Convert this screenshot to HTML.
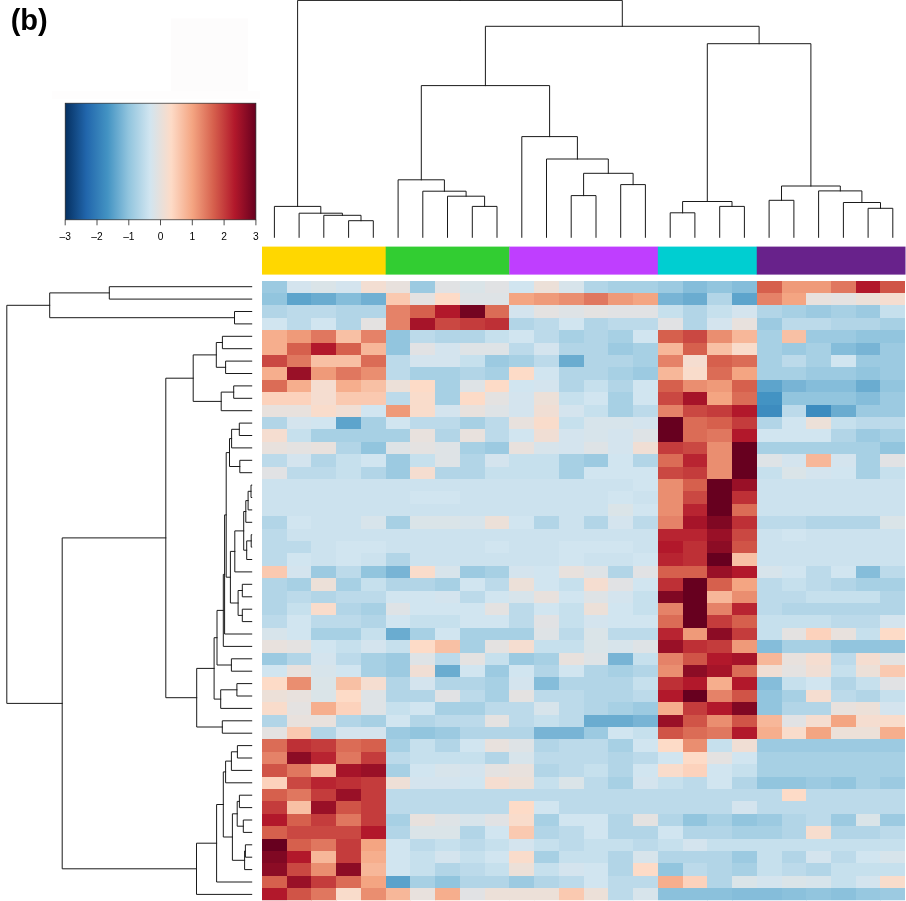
<!DOCTYPE html><html><head><meta charset="utf-8"><title>(b) heatmap</title>
<style>html,body{margin:0;padding:0;background:#fff}svg{display:block;will-change:transform}text{font-family:"Liberation Sans",Arial,sans-serif}</style></head><body>
<svg width="906" height="901" viewBox="0 0 906 901">
<rect width="906" height="901" fill="#fff"/>
<text x="10.7" y="29.6" font-size="29" font-weight="bold" fill="#000">(b)</text>
<rect x="171" y="18.5" width="77" height="80" fill="#fdfcfc"/>
<rect x="52" y="91" width="208" height="8" fill="#fefdfd"/>
<defs><linearGradient id="k" x1="0" x2="1" y1="0" y2="0">
<stop offset="0.0000" stop-color="#053061"/>
<stop offset="0.1111" stop-color="#2166AC"/>
<stop offset="0.2222" stop-color="#4393C3"/>
<stop offset="0.3333" stop-color="#92C5DE"/>
<stop offset="0.4444" stop-color="#D1E5F0"/>
<stop offset="0.5556" stop-color="#FDDBC7"/>
<stop offset="0.6667" stop-color="#F4A582"/>
<stop offset="0.7778" stop-color="#D6604D"/>
<stop offset="0.8889" stop-color="#B2182B"/>
<stop offset="1.0000" stop-color="#67001F"/>
</linearGradient></defs>
<rect x="65.2" y="103.2" width="190.7" height="116.6" fill="url(#k)" stroke="#222" stroke-width="0.7"/>
<line x1="65.2" y1="219.8" x2="65.2" y2="225.3" stroke="#222" stroke-width="0.8"/>
<text x="65.2" y="240" font-size="10.2" text-anchor="middle" fill="#000">–3</text>
<line x1="97.0" y1="219.8" x2="97.0" y2="225.3" stroke="#222" stroke-width="0.8"/>
<text x="97.0" y="240" font-size="10.2" text-anchor="middle" fill="#000">–2</text>
<line x1="128.8" y1="219.8" x2="128.8" y2="225.3" stroke="#222" stroke-width="0.8"/>
<text x="128.8" y="240" font-size="10.2" text-anchor="middle" fill="#000">–1</text>
<line x1="160.5" y1="219.8" x2="160.5" y2="225.3" stroke="#222" stroke-width="0.8"/>
<text x="160.5" y="240" font-size="10.2" text-anchor="middle" fill="#000">0</text>
<line x1="192.3" y1="219.8" x2="192.3" y2="225.3" stroke="#222" stroke-width="0.8"/>
<text x="192.3" y="240" font-size="10.2" text-anchor="middle" fill="#000">1</text>
<line x1="224.1" y1="219.8" x2="224.1" y2="225.3" stroke="#222" stroke-width="0.8"/>
<text x="224.1" y="240" font-size="10.2" text-anchor="middle" fill="#000">2</text>
<line x1="255.9" y1="219.8" x2="255.9" y2="225.3" stroke="#222" stroke-width="0.8"/>
<text x="255.9" y="240" font-size="10.2" text-anchor="middle" fill="#000">3</text>
<rect x="262.00" y="246.6" width="123.99" height="28" fill="#FFD700"/>
<rect x="385.69" y="246.6" width="123.99" height="28" fill="#32CD32"/>
<rect x="509.38" y="246.6" width="148.73" height="28" fill="#BF3EFF"/>
<rect x="657.82" y="246.6" width="99.25" height="28" fill="#00CED1"/>
<rect x="756.77" y="246.6" width="148.73" height="28" fill="#68228B"/>
<clipPath id="hc"><rect x="262" y="280.5" width="643" height="619.7"/></clipPath>
<g shape-rendering="crispEdges" clip-path="url(#hc)">
<rect x="262.00" y="280.50" width="25.24" height="12.90" fill="#9ccae1"/>
<rect x="286.74" y="280.50" width="25.24" height="12.90" fill="#d4e4ee"/>
<rect x="311.48" y="280.50" width="25.24" height="12.90" fill="#dae4e8"/>
<rect x="336.22" y="280.50" width="25.24" height="12.90" fill="#d4e4ee"/>
<rect x="360.95" y="280.50" width="25.24" height="12.90" fill="#f3ded2"/>
<rect x="385.69" y="280.50" width="25.24" height="12.90" fill="#e8e1dd"/>
<rect x="410.43" y="280.50" width="25.24" height="12.90" fill="#9ccae1"/>
<rect x="435.17" y="280.50" width="25.24" height="12.90" fill="#e1e2e4"/>
<rect x="459.91" y="280.50" width="25.24" height="12.90" fill="#dae4e8"/>
<rect x="484.65" y="280.50" width="25.24" height="12.90" fill="#e1e2e4"/>
<rect x="509.38" y="280.50" width="25.24" height="12.90" fill="#d1e5f0"/>
<rect x="534.12" y="280.50" width="25.24" height="12.90" fill="#ece0d8"/>
<rect x="558.86" y="280.50" width="25.24" height="12.90" fill="#d7e4eb"/>
<rect x="583.60" y="280.50" width="25.24" height="12.90" fill="#b2d5e7"/>
<rect x="608.34" y="280.50" width="25.24" height="12.90" fill="#a7d0e4"/>
<rect x="633.08" y="280.50" width="25.24" height="12.90" fill="#a7d0e4"/>
<rect x="657.82" y="280.50" width="25.24" height="12.90" fill="#9ccae1"/>
<rect x="682.55" y="280.50" width="25.24" height="12.90" fill="#85bdda"/>
<rect x="707.29" y="280.50" width="25.24" height="12.90" fill="#92c5de"/>
<rect x="732.03" y="280.50" width="25.24" height="12.90" fill="#85bdda"/>
<rect x="756.77" y="280.50" width="25.24" height="12.90" fill="#d6604d"/>
<rect x="781.51" y="280.50" width="25.24" height="12.90" fill="#ef9a79"/>
<rect x="806.25" y="280.50" width="25.24" height="12.90" fill="#ef9a79"/>
<rect x="830.98" y="280.50" width="25.24" height="12.90" fill="#e0775f"/>
<rect x="855.72" y="280.50" width="25.24" height="12.90" fill="#b2182b"/>
<rect x="880.46" y="280.50" width="25.24" height="12.90" fill="#d05447"/>
<rect x="262.00" y="292.90" width="25.24" height="12.90" fill="#92c5de"/>
<rect x="286.74" y="292.90" width="25.24" height="12.90" fill="#5da4cc"/>
<rect x="311.48" y="292.90" width="25.24" height="12.90" fill="#6aacd0"/>
<rect x="336.22" y="292.90" width="25.24" height="12.90" fill="#85bdda"/>
<rect x="360.95" y="292.90" width="25.24" height="12.90" fill="#71b0d3"/>
<rect x="385.69" y="292.90" width="25.24" height="12.90" fill="#fac9b0"/>
<rect x="410.43" y="292.90" width="25.24" height="12.90" fill="#e4e2e1"/>
<rect x="435.17" y="292.90" width="25.24" height="12.90" fill="#fddbc7"/>
<rect x="459.91" y="292.90" width="25.24" height="12.90" fill="#dee3e6"/>
<rect x="484.65" y="292.90" width="25.24" height="12.90" fill="#dee3e6"/>
<rect x="509.38" y="292.90" width="25.24" height="12.90" fill="#f4a582"/>
<rect x="534.12" y="292.90" width="25.24" height="12.90" fill="#ef9a79"/>
<rect x="558.86" y="292.90" width="25.24" height="12.90" fill="#ea8e70"/>
<rect x="583.60" y="292.90" width="25.24" height="12.90" fill="#e0775f"/>
<rect x="608.34" y="292.90" width="25.24" height="12.90" fill="#ef9a79"/>
<rect x="633.08" y="292.90" width="25.24" height="12.90" fill="#f4a582"/>
<rect x="657.82" y="292.90" width="25.24" height="12.90" fill="#78b4d5"/>
<rect x="682.55" y="292.90" width="25.24" height="12.90" fill="#6aacd0"/>
<rect x="707.29" y="292.90" width="25.24" height="12.90" fill="#b2d5e7"/>
<rect x="732.03" y="292.90" width="25.24" height="12.90" fill="#5da4cc"/>
<rect x="756.77" y="292.90" width="25.24" height="12.90" fill="#e58268"/>
<rect x="781.51" y="292.90" width="25.24" height="12.90" fill="#f4a582"/>
<rect x="806.25" y="292.90" width="25.24" height="12.90" fill="#e8e1dd"/>
<rect x="830.98" y="292.90" width="25.24" height="12.90" fill="#e4e2e1"/>
<rect x="855.72" y="292.90" width="25.24" height="12.90" fill="#ece0d8"/>
<rect x="880.46" y="292.90" width="25.24" height="12.90" fill="#f5ddd0"/>
<rect x="262.00" y="305.30" width="25.24" height="12.90" fill="#b2d5e7"/>
<rect x="286.74" y="305.30" width="25.24" height="12.90" fill="#bcdaea"/>
<rect x="311.48" y="305.30" width="25.24" height="12.90" fill="#bcdaea"/>
<rect x="336.22" y="305.30" width="25.24" height="12.90" fill="#b2d5e7"/>
<rect x="360.95" y="305.30" width="25.24" height="12.90" fill="#b2d5e7"/>
<rect x="385.69" y="305.30" width="25.24" height="12.90" fill="#e58268"/>
<rect x="410.43" y="305.30" width="25.24" height="12.90" fill="#d6604d"/>
<rect x="435.17" y="305.30" width="25.24" height="12.90" fill="#b2182b"/>
<rect x="459.91" y="305.30" width="25.24" height="12.90" fill="#740421"/>
<rect x="484.65" y="305.30" width="25.24" height="12.90" fill="#db6c56"/>
<rect x="509.38" y="305.30" width="25.24" height="12.90" fill="#d4e4ee"/>
<rect x="534.12" y="305.30" width="25.24" height="12.90" fill="#e4e2e1"/>
<rect x="558.86" y="305.30" width="25.24" height="12.90" fill="#dee3e6"/>
<rect x="583.60" y="305.30" width="25.24" height="12.90" fill="#e4e2e1"/>
<rect x="608.34" y="305.30" width="25.24" height="12.90" fill="#e1e2e4"/>
<rect x="633.08" y="305.30" width="25.24" height="12.90" fill="#e1e2e4"/>
<rect x="657.82" y="305.30" width="25.24" height="12.90" fill="#c6e0ed"/>
<rect x="682.55" y="305.30" width="25.24" height="12.90" fill="#b2d5e7"/>
<rect x="707.29" y="305.30" width="25.24" height="12.90" fill="#c6e0ed"/>
<rect x="732.03" y="305.30" width="25.24" height="12.90" fill="#d4e4ee"/>
<rect x="756.77" y="305.30" width="25.24" height="12.90" fill="#b2d5e7"/>
<rect x="781.51" y="305.30" width="25.24" height="12.90" fill="#a7d0e4"/>
<rect x="806.25" y="305.30" width="25.24" height="12.90" fill="#9ccae1"/>
<rect x="830.98" y="305.30" width="25.24" height="12.90" fill="#a7d0e4"/>
<rect x="855.72" y="305.30" width="25.24" height="12.90" fill="#9ccae1"/>
<rect x="880.46" y="305.30" width="25.24" height="12.90" fill="#c6e0ed"/>
<rect x="262.00" y="317.71" width="25.24" height="12.90" fill="#d1e5f0"/>
<rect x="286.74" y="317.71" width="25.24" height="12.90" fill="#bcdaea"/>
<rect x="311.48" y="317.71" width="25.24" height="12.90" fill="#d1e5f0"/>
<rect x="336.22" y="317.71" width="25.24" height="12.90" fill="#b2d5e7"/>
<rect x="360.95" y="317.71" width="25.24" height="12.90" fill="#e4e2e1"/>
<rect x="385.69" y="317.71" width="25.24" height="12.90" fill="#e58268"/>
<rect x="410.43" y="317.71" width="25.24" height="12.90" fill="#a61429"/>
<rect x="435.17" y="317.71" width="25.24" height="12.90" fill="#ca4842"/>
<rect x="459.91" y="317.71" width="25.24" height="12.90" fill="#c43c3c"/>
<rect x="484.65" y="317.71" width="25.24" height="12.90" fill="#be3036"/>
<rect x="509.38" y="317.71" width="25.24" height="12.90" fill="#b2d5e7"/>
<rect x="534.12" y="317.71" width="25.24" height="12.90" fill="#bcdaea"/>
<rect x="558.86" y="317.71" width="25.24" height="12.90" fill="#d1e5f0"/>
<rect x="583.60" y="317.71" width="25.24" height="12.90" fill="#b2d5e7"/>
<rect x="608.34" y="317.71" width="25.24" height="12.90" fill="#bcdaea"/>
<rect x="633.08" y="317.71" width="25.24" height="12.90" fill="#bcdaea"/>
<rect x="657.82" y="317.71" width="25.24" height="12.90" fill="#e1e2e4"/>
<rect x="682.55" y="317.71" width="25.24" height="12.90" fill="#b2d5e7"/>
<rect x="707.29" y="317.71" width="25.24" height="12.90" fill="#d4e4ee"/>
<rect x="732.03" y="317.71" width="25.24" height="12.90" fill="#e8e1dd"/>
<rect x="756.77" y="317.71" width="25.24" height="12.90" fill="#9ccae1"/>
<rect x="781.51" y="317.71" width="25.24" height="12.90" fill="#bcdaea"/>
<rect x="806.25" y="317.71" width="25.24" height="12.90" fill="#bcdaea"/>
<rect x="830.98" y="317.71" width="25.24" height="12.90" fill="#b2d5e7"/>
<rect x="855.72" y="317.71" width="25.24" height="12.90" fill="#b2d5e7"/>
<rect x="880.46" y="317.71" width="25.24" height="12.90" fill="#a7d0e4"/>
<rect x="262.00" y="330.11" width="25.24" height="12.90" fill="#f6ae8d"/>
<rect x="286.74" y="330.11" width="25.24" height="12.90" fill="#ef9a79"/>
<rect x="311.48" y="330.11" width="25.24" height="12.90" fill="#e0775f"/>
<rect x="336.22" y="330.11" width="25.24" height="12.90" fill="#f8c0a4"/>
<rect x="360.95" y="330.11" width="25.24" height="12.90" fill="#e58268"/>
<rect x="385.69" y="330.11" width="25.24" height="12.90" fill="#92c5de"/>
<rect x="410.43" y="330.11" width="25.24" height="12.90" fill="#bcdaea"/>
<rect x="435.17" y="330.11" width="25.24" height="12.90" fill="#b2d5e7"/>
<rect x="459.91" y="330.11" width="25.24" height="12.90" fill="#b2d5e7"/>
<rect x="484.65" y="330.11" width="25.24" height="12.90" fill="#c6e0ed"/>
<rect x="509.38" y="330.11" width="25.24" height="12.90" fill="#d1e5f0"/>
<rect x="534.12" y="330.11" width="25.24" height="12.90" fill="#bcdaea"/>
<rect x="558.86" y="330.11" width="25.24" height="12.90" fill="#a7d0e4"/>
<rect x="583.60" y="330.11" width="25.24" height="12.90" fill="#b2d5e7"/>
<rect x="608.34" y="330.11" width="25.24" height="12.90" fill="#a7d0e4"/>
<rect x="633.08" y="330.11" width="25.24" height="12.90" fill="#d1e5f0"/>
<rect x="657.82" y="330.11" width="25.24" height="12.90" fill="#d6604d"/>
<rect x="682.55" y="330.11" width="25.24" height="12.90" fill="#ca4842"/>
<rect x="707.29" y="330.11" width="25.24" height="12.90" fill="#ea8e70"/>
<rect x="732.03" y="330.11" width="25.24" height="12.90" fill="#f7b799"/>
<rect x="756.77" y="330.11" width="25.24" height="12.90" fill="#a7d0e4"/>
<rect x="781.51" y="330.11" width="25.24" height="12.90" fill="#f8c0a4"/>
<rect x="806.25" y="330.11" width="25.24" height="12.90" fill="#9ccae1"/>
<rect x="830.98" y="330.11" width="25.24" height="12.90" fill="#9ccae1"/>
<rect x="855.72" y="330.11" width="25.24" height="12.90" fill="#92c5de"/>
<rect x="880.46" y="330.11" width="25.24" height="12.90" fill="#92c5de"/>
<rect x="262.00" y="342.51" width="25.24" height="12.90" fill="#f6ae8d"/>
<rect x="286.74" y="342.51" width="25.24" height="12.90" fill="#d6604d"/>
<rect x="311.48" y="342.51" width="25.24" height="12.90" fill="#b2182b"/>
<rect x="336.22" y="342.51" width="25.24" height="12.90" fill="#d6604d"/>
<rect x="360.95" y="342.51" width="25.24" height="12.90" fill="#f7b799"/>
<rect x="385.69" y="342.51" width="25.24" height="12.90" fill="#92c5de"/>
<rect x="410.43" y="342.51" width="25.24" height="12.90" fill="#e1e2e4"/>
<rect x="435.17" y="342.51" width="25.24" height="12.90" fill="#d4e4ee"/>
<rect x="459.91" y="342.51" width="25.24" height="12.90" fill="#dee3e6"/>
<rect x="484.65" y="342.51" width="25.24" height="12.90" fill="#dee3e6"/>
<rect x="509.38" y="342.51" width="25.24" height="12.90" fill="#bcdaea"/>
<rect x="534.12" y="342.51" width="25.24" height="12.90" fill="#d4e4ee"/>
<rect x="558.86" y="342.51" width="25.24" height="12.90" fill="#b2d5e7"/>
<rect x="583.60" y="342.51" width="25.24" height="12.90" fill="#b2d5e7"/>
<rect x="608.34" y="342.51" width="25.24" height="12.90" fill="#9ccae1"/>
<rect x="633.08" y="342.51" width="25.24" height="12.90" fill="#a7d0e4"/>
<rect x="657.82" y="342.51" width="25.24" height="12.90" fill="#f7b799"/>
<rect x="682.55" y="342.51" width="25.24" height="12.90" fill="#d6604d"/>
<rect x="707.29" y="342.51" width="25.24" height="12.90" fill="#f8c0a4"/>
<rect x="732.03" y="342.51" width="25.24" height="12.90" fill="#f9dccb"/>
<rect x="756.77" y="342.51" width="25.24" height="12.90" fill="#a7d0e4"/>
<rect x="781.51" y="342.51" width="25.24" height="12.90" fill="#9ccae1"/>
<rect x="806.25" y="342.51" width="25.24" height="12.90" fill="#a7d0e4"/>
<rect x="830.98" y="342.51" width="25.24" height="12.90" fill="#85bdda"/>
<rect x="855.72" y="342.51" width="25.24" height="12.90" fill="#78b4d5"/>
<rect x="880.46" y="342.51" width="25.24" height="12.90" fill="#9ccae1"/>
<rect x="262.00" y="354.91" width="25.24" height="12.90" fill="#ca4842"/>
<rect x="286.74" y="354.91" width="25.24" height="12.90" fill="#e0775f"/>
<rect x="311.48" y="354.91" width="25.24" height="12.90" fill="#f8c0a4"/>
<rect x="336.22" y="354.91" width="25.24" height="12.90" fill="#f8c0a4"/>
<rect x="360.95" y="354.91" width="25.24" height="12.90" fill="#db6c56"/>
<rect x="385.69" y="354.91" width="25.24" height="12.90" fill="#bcdaea"/>
<rect x="410.43" y="354.91" width="25.24" height="12.90" fill="#d4e4ee"/>
<rect x="435.17" y="354.91" width="25.24" height="12.90" fill="#d4e4ee"/>
<rect x="459.91" y="354.91" width="25.24" height="12.90" fill="#c6e0ed"/>
<rect x="484.65" y="354.91" width="25.24" height="12.90" fill="#9ccae1"/>
<rect x="509.38" y="354.91" width="25.24" height="12.90" fill="#a7d0e4"/>
<rect x="534.12" y="354.91" width="25.24" height="12.90" fill="#bcdaea"/>
<rect x="558.86" y="354.91" width="25.24" height="12.90" fill="#6aacd0"/>
<rect x="583.60" y="354.91" width="25.24" height="12.90" fill="#b2d5e7"/>
<rect x="608.34" y="354.91" width="25.24" height="12.90" fill="#b2d5e7"/>
<rect x="633.08" y="354.91" width="25.24" height="12.90" fill="#a7d0e4"/>
<rect x="657.82" y="354.91" width="25.24" height="12.90" fill="#e58268"/>
<rect x="682.55" y="354.91" width="25.24" height="12.90" fill="#f5ddd0"/>
<rect x="707.29" y="354.91" width="25.24" height="12.90" fill="#d6604d"/>
<rect x="732.03" y="354.91" width="25.24" height="12.90" fill="#db6c56"/>
<rect x="756.77" y="354.91" width="25.24" height="12.90" fill="#a7d0e4"/>
<rect x="781.51" y="354.91" width="25.24" height="12.90" fill="#bcdaea"/>
<rect x="806.25" y="354.91" width="25.24" height="12.90" fill="#a7d0e4"/>
<rect x="830.98" y="354.91" width="25.24" height="12.90" fill="#d1e5f0"/>
<rect x="855.72" y="354.91" width="25.24" height="12.90" fill="#9ccae1"/>
<rect x="880.46" y="354.91" width="25.24" height="12.90" fill="#9ccae1"/>
<rect x="262.00" y="367.31" width="25.24" height="12.90" fill="#f6ae8d"/>
<rect x="286.74" y="367.31" width="25.24" height="12.90" fill="#991027"/>
<rect x="311.48" y="367.31" width="25.24" height="12.90" fill="#ef9a79"/>
<rect x="336.22" y="367.31" width="25.24" height="12.90" fill="#e0775f"/>
<rect x="360.95" y="367.31" width="25.24" height="12.90" fill="#ea8e70"/>
<rect x="385.69" y="367.31" width="25.24" height="12.90" fill="#bcdaea"/>
<rect x="410.43" y="367.31" width="25.24" height="12.90" fill="#a7d0e4"/>
<rect x="435.17" y="367.31" width="25.24" height="12.90" fill="#a7d0e4"/>
<rect x="459.91" y="367.31" width="25.24" height="12.90" fill="#b2d5e7"/>
<rect x="484.65" y="367.31" width="25.24" height="12.90" fill="#a7d0e4"/>
<rect x="509.38" y="367.31" width="25.24" height="12.90" fill="#fddbc7"/>
<rect x="534.12" y="367.31" width="25.24" height="12.90" fill="#d1e5f0"/>
<rect x="558.86" y="367.31" width="25.24" height="12.90" fill="#b2d5e7"/>
<rect x="583.60" y="367.31" width="25.24" height="12.90" fill="#b2d5e7"/>
<rect x="608.34" y="367.31" width="25.24" height="12.90" fill="#a7d0e4"/>
<rect x="633.08" y="367.31" width="25.24" height="12.90" fill="#9ccae1"/>
<rect x="657.82" y="367.31" width="25.24" height="12.90" fill="#f7b799"/>
<rect x="682.55" y="367.31" width="25.24" height="12.90" fill="#f9dccb"/>
<rect x="707.29" y="367.31" width="25.24" height="12.90" fill="#db6c56"/>
<rect x="732.03" y="367.31" width="25.24" height="12.90" fill="#f4a582"/>
<rect x="756.77" y="367.31" width="25.24" height="12.90" fill="#a7d0e4"/>
<rect x="781.51" y="367.31" width="25.24" height="12.90" fill="#a7d0e4"/>
<rect x="806.25" y="367.31" width="25.24" height="12.90" fill="#9ccae1"/>
<rect x="830.98" y="367.31" width="25.24" height="12.90" fill="#9ccae1"/>
<rect x="855.72" y="367.31" width="25.24" height="12.90" fill="#92c5de"/>
<rect x="880.46" y="367.31" width="25.24" height="12.90" fill="#9ccae1"/>
<rect x="262.00" y="379.72" width="25.24" height="12.90" fill="#db6c56"/>
<rect x="286.74" y="379.72" width="25.24" height="12.90" fill="#f6ae8d"/>
<rect x="311.48" y="379.72" width="25.24" height="12.90" fill="#f5ddd0"/>
<rect x="336.22" y="379.72" width="25.24" height="12.90" fill="#f6ae8d"/>
<rect x="360.95" y="379.72" width="25.24" height="12.90" fill="#f8c0a4"/>
<rect x="385.69" y="379.72" width="25.24" height="12.90" fill="#ece0d8"/>
<rect x="410.43" y="379.72" width="25.24" height="12.90" fill="#fddbc7"/>
<rect x="435.17" y="379.72" width="25.24" height="12.90" fill="#a7d0e4"/>
<rect x="459.91" y="379.72" width="25.24" height="12.90" fill="#dee3e6"/>
<rect x="484.65" y="379.72" width="25.24" height="12.90" fill="#fddbc7"/>
<rect x="509.38" y="379.72" width="25.24" height="12.90" fill="#d1e5f0"/>
<rect x="534.12" y="379.72" width="25.24" height="12.90" fill="#d4e4ee"/>
<rect x="558.86" y="379.72" width="25.24" height="12.90" fill="#b2d5e7"/>
<rect x="583.60" y="379.72" width="25.24" height="12.90" fill="#c6e0ed"/>
<rect x="608.34" y="379.72" width="25.24" height="12.90" fill="#b2d5e7"/>
<rect x="633.08" y="379.72" width="25.24" height="12.90" fill="#d1e5f0"/>
<rect x="657.82" y="379.72" width="25.24" height="12.90" fill="#d6604d"/>
<rect x="682.55" y="379.72" width="25.24" height="12.90" fill="#ea8e70"/>
<rect x="707.29" y="379.72" width="25.24" height="12.90" fill="#ef9a79"/>
<rect x="732.03" y="379.72" width="25.24" height="12.90" fill="#d6604d"/>
<rect x="756.77" y="379.72" width="25.24" height="12.90" fill="#5da4cc"/>
<rect x="781.51" y="379.72" width="25.24" height="12.90" fill="#78b4d5"/>
<rect x="806.25" y="379.72" width="25.24" height="12.90" fill="#85bdda"/>
<rect x="830.98" y="379.72" width="25.24" height="12.90" fill="#85bdda"/>
<rect x="855.72" y="379.72" width="25.24" height="12.90" fill="#6aacd0"/>
<rect x="880.46" y="379.72" width="25.24" height="12.90" fill="#92c5de"/>
<rect x="262.00" y="392.12" width="25.24" height="12.90" fill="#fcd2bc"/>
<rect x="286.74" y="392.12" width="25.24" height="12.90" fill="#fcd2bc"/>
<rect x="311.48" y="392.12" width="25.24" height="12.90" fill="#f5ddd0"/>
<rect x="336.22" y="392.12" width="25.24" height="12.90" fill="#fac9b0"/>
<rect x="360.95" y="392.12" width="25.24" height="12.90" fill="#fac9b0"/>
<rect x="385.69" y="392.12" width="25.24" height="12.90" fill="#bcdaea"/>
<rect x="410.43" y="392.12" width="25.24" height="12.90" fill="#f9dccb"/>
<rect x="435.17" y="392.12" width="25.24" height="12.90" fill="#a7d0e4"/>
<rect x="459.91" y="392.12" width="25.24" height="12.90" fill="#fddbc7"/>
<rect x="484.65" y="392.12" width="25.24" height="12.90" fill="#e4e2e1"/>
<rect x="509.38" y="392.12" width="25.24" height="12.90" fill="#d4e4ee"/>
<rect x="534.12" y="392.12" width="25.24" height="12.90" fill="#ece0d8"/>
<rect x="558.86" y="392.12" width="25.24" height="12.90" fill="#c6e0ed"/>
<rect x="583.60" y="392.12" width="25.24" height="12.90" fill="#d1e5f0"/>
<rect x="608.34" y="392.12" width="25.24" height="12.90" fill="#a7d0e4"/>
<rect x="633.08" y="392.12" width="25.24" height="12.90" fill="#d1e5f0"/>
<rect x="657.82" y="392.12" width="25.24" height="12.90" fill="#ca4842"/>
<rect x="682.55" y="392.12" width="25.24" height="12.90" fill="#a61429"/>
<rect x="707.29" y="392.12" width="25.24" height="12.90" fill="#f4a582"/>
<rect x="732.03" y="392.12" width="25.24" height="12.90" fill="#db6c56"/>
<rect x="756.77" y="392.12" width="25.24" height="12.90" fill="#4393c3"/>
<rect x="781.51" y="392.12" width="25.24" height="12.90" fill="#92c5de"/>
<rect x="806.25" y="392.12" width="25.24" height="12.90" fill="#92c5de"/>
<rect x="830.98" y="392.12" width="25.24" height="12.90" fill="#92c5de"/>
<rect x="855.72" y="392.12" width="25.24" height="12.90" fill="#85bdda"/>
<rect x="880.46" y="392.12" width="25.24" height="12.90" fill="#9ccae1"/>
<rect x="262.00" y="404.52" width="25.24" height="12.90" fill="#e8e1dd"/>
<rect x="286.74" y="404.52" width="25.24" height="12.90" fill="#e8e1dd"/>
<rect x="311.48" y="404.52" width="25.24" height="12.90" fill="#f9dccb"/>
<rect x="336.22" y="404.52" width="25.24" height="12.90" fill="#f0ded4"/>
<rect x="360.95" y="404.52" width="25.24" height="12.90" fill="#d1e5f0"/>
<rect x="385.69" y="404.52" width="25.24" height="12.90" fill="#ef9a79"/>
<rect x="410.43" y="404.52" width="25.24" height="12.90" fill="#f9dccb"/>
<rect x="435.17" y="404.52" width="25.24" height="12.90" fill="#d4e4ee"/>
<rect x="459.91" y="404.52" width="25.24" height="12.90" fill="#e8e1dd"/>
<rect x="484.65" y="404.52" width="25.24" height="12.90" fill="#dee3e6"/>
<rect x="509.38" y="404.52" width="25.24" height="12.90" fill="#d4e4ee"/>
<rect x="534.12" y="404.52" width="25.24" height="12.90" fill="#f0ded4"/>
<rect x="558.86" y="404.52" width="25.24" height="12.90" fill="#d4e4ee"/>
<rect x="583.60" y="404.52" width="25.24" height="12.90" fill="#c6e0ed"/>
<rect x="608.34" y="404.52" width="25.24" height="12.90" fill="#a7d0e4"/>
<rect x="633.08" y="404.52" width="25.24" height="12.90" fill="#bcdaea"/>
<rect x="657.82" y="404.52" width="25.24" height="12.90" fill="#e58268"/>
<rect x="682.55" y="404.52" width="25.24" height="12.90" fill="#ca4842"/>
<rect x="707.29" y="404.52" width="25.24" height="12.90" fill="#c43c3c"/>
<rect x="732.03" y="404.52" width="25.24" height="12.90" fill="#b2182b"/>
<rect x="756.77" y="404.52" width="25.24" height="12.90" fill="#3d8cbf"/>
<rect x="781.51" y="404.52" width="25.24" height="12.90" fill="#bcdaea"/>
<rect x="806.25" y="404.52" width="25.24" height="12.90" fill="#3d8cbf"/>
<rect x="830.98" y="404.52" width="25.24" height="12.90" fill="#6aacd0"/>
<rect x="855.72" y="404.52" width="25.24" height="12.90" fill="#9ccae1"/>
<rect x="880.46" y="404.52" width="25.24" height="12.90" fill="#9ccae1"/>
<rect x="262.00" y="416.92" width="25.24" height="12.90" fill="#b2d5e7"/>
<rect x="286.74" y="416.92" width="25.24" height="12.90" fill="#d4e4ee"/>
<rect x="311.48" y="416.92" width="25.24" height="12.90" fill="#d1e5f0"/>
<rect x="336.22" y="416.92" width="25.24" height="12.90" fill="#5da4cc"/>
<rect x="360.95" y="416.92" width="25.24" height="12.90" fill="#a7d0e4"/>
<rect x="385.69" y="416.92" width="25.24" height="12.90" fill="#d1e5f0"/>
<rect x="410.43" y="416.92" width="25.24" height="12.90" fill="#bcdaea"/>
<rect x="435.17" y="416.92" width="25.24" height="12.90" fill="#bcdaea"/>
<rect x="459.91" y="416.92" width="25.24" height="12.90" fill="#a7d0e4"/>
<rect x="484.65" y="416.92" width="25.24" height="12.90" fill="#bcdaea"/>
<rect x="509.38" y="416.92" width="25.24" height="12.90" fill="#e8e1dd"/>
<rect x="534.12" y="416.92" width="25.24" height="12.90" fill="#f9dccb"/>
<rect x="558.86" y="416.92" width="25.24" height="12.90" fill="#c6e0ed"/>
<rect x="583.60" y="416.92" width="25.24" height="12.90" fill="#d7e4eb"/>
<rect x="608.34" y="416.92" width="25.24" height="12.90" fill="#d7e4eb"/>
<rect x="633.08" y="416.92" width="25.24" height="12.90" fill="#d4e4ee"/>
<rect x="657.82" y="416.92" width="25.24" height="12.90" fill="#67001f"/>
<rect x="682.55" y="416.92" width="25.24" height="12.90" fill="#db6c56"/>
<rect x="707.29" y="416.92" width="25.24" height="12.90" fill="#d6604d"/>
<rect x="732.03" y="416.92" width="25.24" height="12.90" fill="#c43c3c"/>
<rect x="756.77" y="416.92" width="25.24" height="12.90" fill="#b2d5e7"/>
<rect x="781.51" y="416.92" width="25.24" height="12.90" fill="#d1e5f0"/>
<rect x="806.25" y="416.92" width="25.24" height="12.90" fill="#ece0d8"/>
<rect x="830.98" y="416.92" width="25.24" height="12.90" fill="#c6e0ed"/>
<rect x="855.72" y="416.92" width="25.24" height="12.90" fill="#bcdaea"/>
<rect x="880.46" y="416.92" width="25.24" height="12.90" fill="#bcdaea"/>
<rect x="262.00" y="429.32" width="25.24" height="12.90" fill="#f5ddd0"/>
<rect x="286.74" y="429.32" width="25.24" height="12.90" fill="#c6e0ed"/>
<rect x="311.48" y="429.32" width="25.24" height="12.90" fill="#a7d0e4"/>
<rect x="336.22" y="429.32" width="25.24" height="12.90" fill="#a7d0e4"/>
<rect x="360.95" y="429.32" width="25.24" height="12.90" fill="#a7d0e4"/>
<rect x="385.69" y="429.32" width="25.24" height="12.90" fill="#a7d0e4"/>
<rect x="410.43" y="429.32" width="25.24" height="12.90" fill="#e8e1dd"/>
<rect x="435.17" y="429.32" width="25.24" height="12.90" fill="#b2d5e7"/>
<rect x="459.91" y="429.32" width="25.24" height="12.90" fill="#e8e1dd"/>
<rect x="484.65" y="429.32" width="25.24" height="12.90" fill="#bcdaea"/>
<rect x="509.38" y="429.32" width="25.24" height="12.90" fill="#d1e5f0"/>
<rect x="534.12" y="429.32" width="25.24" height="12.90" fill="#f0ded4"/>
<rect x="558.86" y="429.32" width="25.24" height="12.90" fill="#d4e4ee"/>
<rect x="583.60" y="429.32" width="25.24" height="12.90" fill="#d7e4eb"/>
<rect x="608.34" y="429.32" width="25.24" height="12.90" fill="#d4e4ee"/>
<rect x="633.08" y="429.32" width="25.24" height="12.90" fill="#dee3e6"/>
<rect x="657.82" y="429.32" width="25.24" height="12.90" fill="#67001f"/>
<rect x="682.55" y="429.32" width="25.24" height="12.90" fill="#db6c56"/>
<rect x="707.29" y="429.32" width="25.24" height="12.90" fill="#e0775f"/>
<rect x="732.03" y="429.32" width="25.24" height="12.90" fill="#b2182b"/>
<rect x="756.77" y="429.32" width="25.24" height="12.90" fill="#d1e5f0"/>
<rect x="781.51" y="429.32" width="25.24" height="12.90" fill="#d1e5f0"/>
<rect x="806.25" y="429.32" width="25.24" height="12.90" fill="#d1e5f0"/>
<rect x="830.98" y="429.32" width="25.24" height="12.90" fill="#b2d5e7"/>
<rect x="855.72" y="429.32" width="25.24" height="12.90" fill="#9ccae1"/>
<rect x="880.46" y="429.32" width="25.24" height="12.90" fill="#a7d0e4"/>
<rect x="262.00" y="441.73" width="25.24" height="12.90" fill="#e8e1dd"/>
<rect x="286.74" y="441.73" width="25.24" height="12.90" fill="#e4e2e1"/>
<rect x="311.48" y="441.73" width="25.24" height="12.90" fill="#e8e1dd"/>
<rect x="336.22" y="441.73" width="25.24" height="12.90" fill="#b2d5e7"/>
<rect x="360.95" y="441.73" width="25.24" height="12.90" fill="#92c5de"/>
<rect x="385.69" y="441.73" width="25.24" height="12.90" fill="#dee3e6"/>
<rect x="410.43" y="441.73" width="25.24" height="12.90" fill="#e4e2e1"/>
<rect x="435.17" y="441.73" width="25.24" height="12.90" fill="#dee3e6"/>
<rect x="459.91" y="441.73" width="25.24" height="12.90" fill="#a7d0e4"/>
<rect x="484.65" y="441.73" width="25.24" height="12.90" fill="#9ccae1"/>
<rect x="509.38" y="441.73" width="25.24" height="12.90" fill="#e8e1dd"/>
<rect x="534.12" y="441.73" width="25.24" height="12.90" fill="#d7e4eb"/>
<rect x="558.86" y="441.73" width="25.24" height="12.90" fill="#d4e4ee"/>
<rect x="583.60" y="441.73" width="25.24" height="12.90" fill="#dee3e6"/>
<rect x="608.34" y="441.73" width="25.24" height="12.90" fill="#d4e4ee"/>
<rect x="633.08" y="441.73" width="25.24" height="12.90" fill="#f0ded4"/>
<rect x="657.82" y="441.73" width="25.24" height="12.90" fill="#c43c3c"/>
<rect x="682.55" y="441.73" width="25.24" height="12.90" fill="#ca4842"/>
<rect x="707.29" y="441.73" width="25.24" height="12.90" fill="#ea8e70"/>
<rect x="732.03" y="441.73" width="25.24" height="12.90" fill="#67001f"/>
<rect x="756.77" y="441.73" width="25.24" height="12.90" fill="#a7d0e4"/>
<rect x="781.51" y="441.73" width="25.24" height="12.90" fill="#a7d0e4"/>
<rect x="806.25" y="441.73" width="25.24" height="12.90" fill="#a7d0e4"/>
<rect x="830.98" y="441.73" width="25.24" height="12.90" fill="#a7d0e4"/>
<rect x="855.72" y="441.73" width="25.24" height="12.90" fill="#a7d0e4"/>
<rect x="880.46" y="441.73" width="25.24" height="12.90" fill="#92c5de"/>
<rect x="262.00" y="454.13" width="25.24" height="12.90" fill="#bcdaea"/>
<rect x="286.74" y="454.13" width="25.24" height="12.90" fill="#d4e4ee"/>
<rect x="311.48" y="454.13" width="25.24" height="12.90" fill="#b2d5e7"/>
<rect x="336.22" y="454.13" width="25.24" height="12.90" fill="#c6e0ed"/>
<rect x="360.95" y="454.13" width="25.24" height="12.90" fill="#d1e5f0"/>
<rect x="385.69" y="454.13" width="25.24" height="12.90" fill="#9ccae1"/>
<rect x="410.43" y="454.13" width="25.24" height="12.90" fill="#c6e0ed"/>
<rect x="435.17" y="454.13" width="25.24" height="12.90" fill="#dee3e6"/>
<rect x="459.91" y="454.13" width="25.24" height="12.90" fill="#b2d5e7"/>
<rect x="484.65" y="454.13" width="25.24" height="12.90" fill="#d4e4ee"/>
<rect x="509.38" y="454.13" width="25.24" height="12.90" fill="#c6e0ed"/>
<rect x="534.12" y="454.13" width="25.24" height="12.90" fill="#c6e0ed"/>
<rect x="558.86" y="454.13" width="25.24" height="12.90" fill="#a7d0e4"/>
<rect x="583.60" y="454.13" width="25.24" height="12.90" fill="#9ccae1"/>
<rect x="608.34" y="454.13" width="25.24" height="12.90" fill="#d1e5f0"/>
<rect x="633.08" y="454.13" width="25.24" height="12.90" fill="#b2d5e7"/>
<rect x="657.82" y="454.13" width="25.24" height="12.90" fill="#db6c56"/>
<rect x="682.55" y="454.13" width="25.24" height="12.90" fill="#b82431"/>
<rect x="707.29" y="454.13" width="25.24" height="12.90" fill="#ea8e70"/>
<rect x="732.03" y="454.13" width="25.24" height="12.90" fill="#67001f"/>
<rect x="756.77" y="454.13" width="25.24" height="12.90" fill="#dee3e6"/>
<rect x="781.51" y="454.13" width="25.24" height="12.90" fill="#d4e4ee"/>
<rect x="806.25" y="454.13" width="25.24" height="12.90" fill="#f7b799"/>
<rect x="830.98" y="454.13" width="25.24" height="12.90" fill="#d4e4ee"/>
<rect x="855.72" y="454.13" width="25.24" height="12.90" fill="#a7d0e4"/>
<rect x="880.46" y="454.13" width="25.24" height="12.90" fill="#e1e2e4"/>
<rect x="262.00" y="466.53" width="25.24" height="12.90" fill="#e1e2e4"/>
<rect x="286.74" y="466.53" width="25.24" height="12.90" fill="#bcdaea"/>
<rect x="311.48" y="466.53" width="25.24" height="12.90" fill="#bcdaea"/>
<rect x="336.22" y="466.53" width="25.24" height="12.90" fill="#c6e0ed"/>
<rect x="360.95" y="466.53" width="25.24" height="12.90" fill="#b2d5e7"/>
<rect x="385.69" y="466.53" width="25.24" height="12.90" fill="#9ccae1"/>
<rect x="410.43" y="466.53" width="25.24" height="12.90" fill="#f5ddd0"/>
<rect x="435.17" y="466.53" width="25.24" height="12.90" fill="#b2d5e7"/>
<rect x="459.91" y="466.53" width="25.24" height="12.90" fill="#b2d5e7"/>
<rect x="484.65" y="466.53" width="25.24" height="12.90" fill="#c6e0ed"/>
<rect x="509.38" y="466.53" width="25.24" height="12.90" fill="#c6e0ed"/>
<rect x="534.12" y="466.53" width="25.24" height="12.90" fill="#c6e0ed"/>
<rect x="558.86" y="466.53" width="25.24" height="12.90" fill="#a7d0e4"/>
<rect x="583.60" y="466.53" width="25.24" height="12.90" fill="#d1e5f0"/>
<rect x="608.34" y="466.53" width="25.24" height="12.90" fill="#d1e5f0"/>
<rect x="633.08" y="466.53" width="25.24" height="12.90" fill="#d1e5f0"/>
<rect x="657.82" y="466.53" width="25.24" height="12.90" fill="#ca4842"/>
<rect x="682.55" y="466.53" width="25.24" height="12.90" fill="#c43c3c"/>
<rect x="707.29" y="466.53" width="25.24" height="12.90" fill="#ea8e70"/>
<rect x="732.03" y="466.53" width="25.24" height="12.90" fill="#67001f"/>
<rect x="756.77" y="466.53" width="25.24" height="12.90" fill="#c6e0ed"/>
<rect x="781.51" y="466.53" width="25.24" height="12.90" fill="#dae4e8"/>
<rect x="806.25" y="466.53" width="25.24" height="12.90" fill="#d4e4ee"/>
<rect x="830.98" y="466.53" width="25.24" height="12.90" fill="#d1e5f0"/>
<rect x="855.72" y="466.53" width="25.24" height="12.90" fill="#a7d0e4"/>
<rect x="880.46" y="466.53" width="25.24" height="12.90" fill="#c6e0ed"/>
<rect x="262.00" y="478.93" width="25.24" height="12.90" fill="#cce2ee"/>
<rect x="286.74" y="478.93" width="25.24" height="12.90" fill="#cce2ee"/>
<rect x="311.48" y="478.93" width="25.24" height="12.90" fill="#cce2ee"/>
<rect x="336.22" y="478.93" width="25.24" height="12.90" fill="#cce2ee"/>
<rect x="360.95" y="478.93" width="25.24" height="12.90" fill="#cce2ee"/>
<rect x="385.69" y="478.93" width="25.24" height="12.90" fill="#cce2ee"/>
<rect x="410.43" y="478.93" width="25.24" height="12.90" fill="#cce2ee"/>
<rect x="435.17" y="478.93" width="25.24" height="12.90" fill="#cce2ee"/>
<rect x="459.91" y="478.93" width="25.24" height="12.90" fill="#cce2ee"/>
<rect x="484.65" y="478.93" width="25.24" height="12.90" fill="#cce2ee"/>
<rect x="509.38" y="478.93" width="25.24" height="12.90" fill="#cce2ee"/>
<rect x="534.12" y="478.93" width="25.24" height="12.90" fill="#cce2ee"/>
<rect x="558.86" y="478.93" width="25.24" height="12.90" fill="#cce2ee"/>
<rect x="583.60" y="478.93" width="25.24" height="12.90" fill="#cce2ee"/>
<rect x="608.34" y="478.93" width="25.24" height="12.90" fill="#cce2ee"/>
<rect x="633.08" y="478.93" width="25.24" height="12.90" fill="#d1e5f0"/>
<rect x="657.82" y="478.93" width="25.24" height="12.90" fill="#ea8e70"/>
<rect x="682.55" y="478.93" width="25.24" height="12.90" fill="#d6604d"/>
<rect x="707.29" y="478.93" width="25.24" height="12.90" fill="#67001f"/>
<rect x="732.03" y="478.93" width="25.24" height="12.90" fill="#991027"/>
<rect x="756.77" y="478.93" width="25.24" height="12.90" fill="#cce2ee"/>
<rect x="781.51" y="478.93" width="25.24" height="12.90" fill="#cce2ee"/>
<rect x="806.25" y="478.93" width="25.24" height="12.90" fill="#cce2ee"/>
<rect x="830.98" y="478.93" width="25.24" height="12.90" fill="#cce2ee"/>
<rect x="855.72" y="478.93" width="25.24" height="12.90" fill="#cce2ee"/>
<rect x="880.46" y="478.93" width="25.24" height="12.90" fill="#cce2ee"/>
<rect x="262.00" y="491.33" width="25.24" height="12.90" fill="#cce2ee"/>
<rect x="286.74" y="491.33" width="25.24" height="12.90" fill="#cce2ee"/>
<rect x="311.48" y="491.33" width="25.24" height="12.90" fill="#cce2ee"/>
<rect x="336.22" y="491.33" width="25.24" height="12.90" fill="#cce2ee"/>
<rect x="360.95" y="491.33" width="25.24" height="12.90" fill="#cce2ee"/>
<rect x="385.69" y="491.33" width="25.24" height="12.90" fill="#cce2ee"/>
<rect x="410.43" y="491.33" width="25.24" height="12.90" fill="#d1e5f0"/>
<rect x="435.17" y="491.33" width="25.24" height="12.90" fill="#d1e5f0"/>
<rect x="459.91" y="491.33" width="25.24" height="12.90" fill="#cce2ee"/>
<rect x="484.65" y="491.33" width="25.24" height="12.90" fill="#cce2ee"/>
<rect x="509.38" y="491.33" width="25.24" height="12.90" fill="#cce2ee"/>
<rect x="534.12" y="491.33" width="25.24" height="12.90" fill="#cce2ee"/>
<rect x="558.86" y="491.33" width="25.24" height="12.90" fill="#cce2ee"/>
<rect x="583.60" y="491.33" width="25.24" height="12.90" fill="#cce2ee"/>
<rect x="608.34" y="491.33" width="25.24" height="12.90" fill="#d1e5f0"/>
<rect x="633.08" y="491.33" width="25.24" height="12.90" fill="#cce2ee"/>
<rect x="657.82" y="491.33" width="25.24" height="12.90" fill="#ea8e70"/>
<rect x="682.55" y="491.33" width="25.24" height="12.90" fill="#ca4842"/>
<rect x="707.29" y="491.33" width="25.24" height="12.90" fill="#67001f"/>
<rect x="732.03" y="491.33" width="25.24" height="12.90" fill="#be3036"/>
<rect x="756.77" y="491.33" width="25.24" height="12.90" fill="#cce2ee"/>
<rect x="781.51" y="491.33" width="25.24" height="12.90" fill="#cce2ee"/>
<rect x="806.25" y="491.33" width="25.24" height="12.90" fill="#cce2ee"/>
<rect x="830.98" y="491.33" width="25.24" height="12.90" fill="#cce2ee"/>
<rect x="855.72" y="491.33" width="25.24" height="12.90" fill="#cce2ee"/>
<rect x="880.46" y="491.33" width="25.24" height="12.90" fill="#cce2ee"/>
<rect x="262.00" y="503.74" width="25.24" height="12.90" fill="#cce2ee"/>
<rect x="286.74" y="503.74" width="25.24" height="12.90" fill="#cce2ee"/>
<rect x="311.48" y="503.74" width="25.24" height="12.90" fill="#cce2ee"/>
<rect x="336.22" y="503.74" width="25.24" height="12.90" fill="#cce2ee"/>
<rect x="360.95" y="503.74" width="25.24" height="12.90" fill="#cce2ee"/>
<rect x="385.69" y="503.74" width="25.24" height="12.90" fill="#cce2ee"/>
<rect x="410.43" y="503.74" width="25.24" height="12.90" fill="#cce2ee"/>
<rect x="435.17" y="503.74" width="25.24" height="12.90" fill="#cce2ee"/>
<rect x="459.91" y="503.74" width="25.24" height="12.90" fill="#cce2ee"/>
<rect x="484.65" y="503.74" width="25.24" height="12.90" fill="#cce2ee"/>
<rect x="509.38" y="503.74" width="25.24" height="12.90" fill="#cce2ee"/>
<rect x="534.12" y="503.74" width="25.24" height="12.90" fill="#cce2ee"/>
<rect x="558.86" y="503.74" width="25.24" height="12.90" fill="#cce2ee"/>
<rect x="583.60" y="503.74" width="25.24" height="12.90" fill="#cce2ee"/>
<rect x="608.34" y="503.74" width="25.24" height="12.90" fill="#dae4e8"/>
<rect x="633.08" y="503.74" width="25.24" height="12.90" fill="#d1e5f0"/>
<rect x="657.82" y="503.74" width="25.24" height="12.90" fill="#ea8e70"/>
<rect x="682.55" y="503.74" width="25.24" height="12.90" fill="#b82431"/>
<rect x="707.29" y="503.74" width="25.24" height="12.90" fill="#67001f"/>
<rect x="732.03" y="503.74" width="25.24" height="12.90" fill="#db6c56"/>
<rect x="756.77" y="503.74" width="25.24" height="12.90" fill="#cce2ee"/>
<rect x="781.51" y="503.74" width="25.24" height="12.90" fill="#cce2ee"/>
<rect x="806.25" y="503.74" width="25.24" height="12.90" fill="#cce2ee"/>
<rect x="830.98" y="503.74" width="25.24" height="12.90" fill="#cce2ee"/>
<rect x="855.72" y="503.74" width="25.24" height="12.90" fill="#cce2ee"/>
<rect x="880.46" y="503.74" width="25.24" height="12.90" fill="#cce2ee"/>
<rect x="262.00" y="516.14" width="25.24" height="12.90" fill="#b2d5e7"/>
<rect x="286.74" y="516.14" width="25.24" height="12.90" fill="#d1e5f0"/>
<rect x="311.48" y="516.14" width="25.24" height="12.90" fill="#cce2ee"/>
<rect x="336.22" y="516.14" width="25.24" height="12.90" fill="#cce2ee"/>
<rect x="360.95" y="516.14" width="25.24" height="12.90" fill="#d7e4eb"/>
<rect x="385.69" y="516.14" width="25.24" height="12.90" fill="#a7d0e4"/>
<rect x="410.43" y="516.14" width="25.24" height="12.90" fill="#dae4e8"/>
<rect x="435.17" y="516.14" width="25.24" height="12.90" fill="#dae4e8"/>
<rect x="459.91" y="516.14" width="25.24" height="12.90" fill="#d7e4eb"/>
<rect x="484.65" y="516.14" width="25.24" height="12.90" fill="#ece0d8"/>
<rect x="509.38" y="516.14" width="25.24" height="12.90" fill="#d1e5f0"/>
<rect x="534.12" y="516.14" width="25.24" height="12.90" fill="#b2d5e7"/>
<rect x="558.86" y="516.14" width="25.24" height="12.90" fill="#cce2ee"/>
<rect x="583.60" y="516.14" width="25.24" height="12.90" fill="#b2d5e7"/>
<rect x="608.34" y="516.14" width="25.24" height="12.90" fill="#d4e4ee"/>
<rect x="633.08" y="516.14" width="25.24" height="12.90" fill="#bcdaea"/>
<rect x="657.82" y="516.14" width="25.24" height="12.90" fill="#e58268"/>
<rect x="682.55" y="516.14" width="25.24" height="12.90" fill="#a61429"/>
<rect x="707.29" y="516.14" width="25.24" height="12.90" fill="#800823"/>
<rect x="732.03" y="516.14" width="25.24" height="12.90" fill="#be3036"/>
<rect x="756.77" y="516.14" width="25.24" height="12.90" fill="#bcdaea"/>
<rect x="781.51" y="516.14" width="25.24" height="12.90" fill="#bcdaea"/>
<rect x="806.25" y="516.14" width="25.24" height="12.90" fill="#b2d5e7"/>
<rect x="830.98" y="516.14" width="25.24" height="12.90" fill="#b2d5e7"/>
<rect x="855.72" y="516.14" width="25.24" height="12.90" fill="#b2d5e7"/>
<rect x="880.46" y="516.14" width="25.24" height="12.90" fill="#dae4e8"/>
<rect x="262.00" y="528.54" width="25.24" height="12.90" fill="#bcdaea"/>
<rect x="286.74" y="528.54" width="25.24" height="12.90" fill="#cce2ee"/>
<rect x="311.48" y="528.54" width="25.24" height="12.90" fill="#cce2ee"/>
<rect x="336.22" y="528.54" width="25.24" height="12.90" fill="#cce2ee"/>
<rect x="360.95" y="528.54" width="25.24" height="12.90" fill="#cce2ee"/>
<rect x="385.69" y="528.54" width="25.24" height="12.90" fill="#cce2ee"/>
<rect x="410.43" y="528.54" width="25.24" height="12.90" fill="#cce2ee"/>
<rect x="435.17" y="528.54" width="25.24" height="12.90" fill="#cce2ee"/>
<rect x="459.91" y="528.54" width="25.24" height="12.90" fill="#cce2ee"/>
<rect x="484.65" y="528.54" width="25.24" height="12.90" fill="#cce2ee"/>
<rect x="509.38" y="528.54" width="25.24" height="12.90" fill="#cce2ee"/>
<rect x="534.12" y="528.54" width="25.24" height="12.90" fill="#cce2ee"/>
<rect x="558.86" y="528.54" width="25.24" height="12.90" fill="#cce2ee"/>
<rect x="583.60" y="528.54" width="25.24" height="12.90" fill="#cce2ee"/>
<rect x="608.34" y="528.54" width="25.24" height="12.90" fill="#cce2ee"/>
<rect x="633.08" y="528.54" width="25.24" height="12.90" fill="#cce2ee"/>
<rect x="657.82" y="528.54" width="25.24" height="12.90" fill="#b82431"/>
<rect x="682.55" y="528.54" width="25.24" height="12.90" fill="#b82431"/>
<rect x="707.29" y="528.54" width="25.24" height="12.90" fill="#991027"/>
<rect x="732.03" y="528.54" width="25.24" height="12.90" fill="#ca4842"/>
<rect x="756.77" y="528.54" width="25.24" height="12.90" fill="#cce2ee"/>
<rect x="781.51" y="528.54" width="25.24" height="12.90" fill="#d1e5f0"/>
<rect x="806.25" y="528.54" width="25.24" height="12.90" fill="#cce2ee"/>
<rect x="830.98" y="528.54" width="25.24" height="12.90" fill="#cce2ee"/>
<rect x="855.72" y="528.54" width="25.24" height="12.90" fill="#cce2ee"/>
<rect x="880.46" y="528.54" width="25.24" height="12.90" fill="#cce2ee"/>
<rect x="262.00" y="540.94" width="25.24" height="12.90" fill="#bcdaea"/>
<rect x="286.74" y="540.94" width="25.24" height="12.90" fill="#bcdaea"/>
<rect x="311.48" y="540.94" width="25.24" height="12.90" fill="#cce2ee"/>
<rect x="336.22" y="540.94" width="25.24" height="12.90" fill="#d1e5f0"/>
<rect x="360.95" y="540.94" width="25.24" height="12.90" fill="#d1e5f0"/>
<rect x="385.69" y="540.94" width="25.24" height="12.90" fill="#cce2ee"/>
<rect x="410.43" y="540.94" width="25.24" height="12.90" fill="#cce2ee"/>
<rect x="435.17" y="540.94" width="25.24" height="12.90" fill="#cce2ee"/>
<rect x="459.91" y="540.94" width="25.24" height="12.90" fill="#cce2ee"/>
<rect x="484.65" y="540.94" width="25.24" height="12.90" fill="#d1e5f0"/>
<rect x="509.38" y="540.94" width="25.24" height="12.90" fill="#cce2ee"/>
<rect x="534.12" y="540.94" width="25.24" height="12.90" fill="#cce2ee"/>
<rect x="558.86" y="540.94" width="25.24" height="12.90" fill="#d1e5f0"/>
<rect x="583.60" y="540.94" width="25.24" height="12.90" fill="#d1e5f0"/>
<rect x="608.34" y="540.94" width="25.24" height="12.90" fill="#d1e5f0"/>
<rect x="633.08" y="540.94" width="25.24" height="12.90" fill="#cce2ee"/>
<rect x="657.82" y="540.94" width="25.24" height="12.90" fill="#b2182b"/>
<rect x="682.55" y="540.94" width="25.24" height="12.90" fill="#be3036"/>
<rect x="707.29" y="540.94" width="25.24" height="12.90" fill="#8c0c25"/>
<rect x="732.03" y="540.94" width="25.24" height="12.90" fill="#d05447"/>
<rect x="756.77" y="540.94" width="25.24" height="12.90" fill="#cce2ee"/>
<rect x="781.51" y="540.94" width="25.24" height="12.90" fill="#cce2ee"/>
<rect x="806.25" y="540.94" width="25.24" height="12.90" fill="#cce2ee"/>
<rect x="830.98" y="540.94" width="25.24" height="12.90" fill="#cce2ee"/>
<rect x="855.72" y="540.94" width="25.24" height="12.90" fill="#cce2ee"/>
<rect x="880.46" y="540.94" width="25.24" height="12.90" fill="#cce2ee"/>
<rect x="262.00" y="553.34" width="25.24" height="12.90" fill="#bcdaea"/>
<rect x="286.74" y="553.34" width="25.24" height="12.90" fill="#d1e5f0"/>
<rect x="311.48" y="553.34" width="25.24" height="12.90" fill="#cce2ee"/>
<rect x="336.22" y="553.34" width="25.24" height="12.90" fill="#d1e5f0"/>
<rect x="360.95" y="553.34" width="25.24" height="12.90" fill="#cce2ee"/>
<rect x="385.69" y="553.34" width="25.24" height="12.90" fill="#b2d5e7"/>
<rect x="410.43" y="553.34" width="25.24" height="12.90" fill="#cce2ee"/>
<rect x="435.17" y="553.34" width="25.24" height="12.90" fill="#cce2ee"/>
<rect x="459.91" y="553.34" width="25.24" height="12.90" fill="#cce2ee"/>
<rect x="484.65" y="553.34" width="25.24" height="12.90" fill="#cce2ee"/>
<rect x="509.38" y="553.34" width="25.24" height="12.90" fill="#cce2ee"/>
<rect x="534.12" y="553.34" width="25.24" height="12.90" fill="#cce2ee"/>
<rect x="558.86" y="553.34" width="25.24" height="12.90" fill="#d1e5f0"/>
<rect x="583.60" y="553.34" width="25.24" height="12.90" fill="#cce2ee"/>
<rect x="608.34" y="553.34" width="25.24" height="12.90" fill="#cce2ee"/>
<rect x="633.08" y="553.34" width="25.24" height="12.90" fill="#d1e5f0"/>
<rect x="657.82" y="553.34" width="25.24" height="12.90" fill="#b82431"/>
<rect x="682.55" y="553.34" width="25.24" height="12.90" fill="#be3036"/>
<rect x="707.29" y="553.34" width="25.24" height="12.90" fill="#67001f"/>
<rect x="732.03" y="553.34" width="25.24" height="12.90" fill="#f8c0a4"/>
<rect x="756.77" y="553.34" width="25.24" height="12.90" fill="#cce2ee"/>
<rect x="781.51" y="553.34" width="25.24" height="12.90" fill="#cce2ee"/>
<rect x="806.25" y="553.34" width="25.24" height="12.90" fill="#cce2ee"/>
<rect x="830.98" y="553.34" width="25.24" height="12.90" fill="#cce2ee"/>
<rect x="855.72" y="553.34" width="25.24" height="12.90" fill="#cce2ee"/>
<rect x="880.46" y="553.34" width="25.24" height="12.90" fill="#cce2ee"/>
<rect x="262.00" y="565.75" width="25.24" height="12.90" fill="#fac9b0"/>
<rect x="286.74" y="565.75" width="25.24" height="12.90" fill="#d4e4ee"/>
<rect x="311.48" y="565.75" width="25.24" height="12.90" fill="#9ccae1"/>
<rect x="336.22" y="565.75" width="25.24" height="12.90" fill="#bcdaea"/>
<rect x="360.95" y="565.75" width="25.24" height="12.90" fill="#92c5de"/>
<rect x="385.69" y="565.75" width="25.24" height="12.90" fill="#78b4d5"/>
<rect x="410.43" y="565.75" width="25.24" height="12.90" fill="#f9dccb"/>
<rect x="435.17" y="565.75" width="25.24" height="12.90" fill="#d7e4eb"/>
<rect x="459.91" y="565.75" width="25.24" height="12.90" fill="#9ccae1"/>
<rect x="484.65" y="565.75" width="25.24" height="12.90" fill="#a7d0e4"/>
<rect x="509.38" y="565.75" width="25.24" height="12.90" fill="#d4e4ee"/>
<rect x="534.12" y="565.75" width="25.24" height="12.90" fill="#d1e5f0"/>
<rect x="558.86" y="565.75" width="25.24" height="12.90" fill="#e8e1dd"/>
<rect x="583.60" y="565.75" width="25.24" height="12.90" fill="#dee3e6"/>
<rect x="608.34" y="565.75" width="25.24" height="12.90" fill="#b2d5e7"/>
<rect x="633.08" y="565.75" width="25.24" height="12.90" fill="#e1e2e4"/>
<rect x="657.82" y="565.75" width="25.24" height="12.90" fill="#d6604d"/>
<rect x="682.55" y="565.75" width="25.24" height="12.90" fill="#d6604d"/>
<rect x="707.29" y="565.75" width="25.24" height="12.90" fill="#991027"/>
<rect x="732.03" y="565.75" width="25.24" height="12.90" fill="#b2182b"/>
<rect x="756.77" y="565.75" width="25.24" height="12.90" fill="#d7e4eb"/>
<rect x="781.51" y="565.75" width="25.24" height="12.90" fill="#d1e5f0"/>
<rect x="806.25" y="565.75" width="25.24" height="12.90" fill="#bcdaea"/>
<rect x="830.98" y="565.75" width="25.24" height="12.90" fill="#d1e5f0"/>
<rect x="855.72" y="565.75" width="25.24" height="12.90" fill="#85bdda"/>
<rect x="880.46" y="565.75" width="25.24" height="12.90" fill="#bcdaea"/>
<rect x="262.00" y="578.15" width="25.24" height="12.90" fill="#b2d5e7"/>
<rect x="286.74" y="578.15" width="25.24" height="12.90" fill="#a7d0e4"/>
<rect x="311.48" y="578.15" width="25.24" height="12.90" fill="#ece0d8"/>
<rect x="336.22" y="578.15" width="25.24" height="12.90" fill="#a7d0e4"/>
<rect x="360.95" y="578.15" width="25.24" height="12.90" fill="#c6e0ed"/>
<rect x="385.69" y="578.15" width="25.24" height="12.90" fill="#b2d5e7"/>
<rect x="410.43" y="578.15" width="25.24" height="12.90" fill="#b2d5e7"/>
<rect x="435.17" y="578.15" width="25.24" height="12.90" fill="#a7d0e4"/>
<rect x="459.91" y="578.15" width="25.24" height="12.90" fill="#d1e5f0"/>
<rect x="484.65" y="578.15" width="25.24" height="12.90" fill="#bcdaea"/>
<rect x="509.38" y="578.15" width="25.24" height="12.90" fill="#ece0d8"/>
<rect x="534.12" y="578.15" width="25.24" height="12.90" fill="#d1e5f0"/>
<rect x="558.86" y="578.15" width="25.24" height="12.90" fill="#c6e0ed"/>
<rect x="583.60" y="578.15" width="25.24" height="12.90" fill="#f5ddd0"/>
<rect x="608.34" y="578.15" width="25.24" height="12.90" fill="#e1e2e4"/>
<rect x="633.08" y="578.15" width="25.24" height="12.90" fill="#d1e5f0"/>
<rect x="657.82" y="578.15" width="25.24" height="12.90" fill="#be3036"/>
<rect x="682.55" y="578.15" width="25.24" height="12.90" fill="#67001f"/>
<rect x="707.29" y="578.15" width="25.24" height="12.90" fill="#d6604d"/>
<rect x="732.03" y="578.15" width="25.24" height="12.90" fill="#f4a582"/>
<rect x="756.77" y="578.15" width="25.24" height="12.90" fill="#bcdaea"/>
<rect x="781.51" y="578.15" width="25.24" height="12.90" fill="#c6e0ed"/>
<rect x="806.25" y="578.15" width="25.24" height="12.90" fill="#bcdaea"/>
<rect x="830.98" y="578.15" width="25.24" height="12.90" fill="#b2d5e7"/>
<rect x="855.72" y="578.15" width="25.24" height="12.90" fill="#a7d0e4"/>
<rect x="880.46" y="578.15" width="25.24" height="12.90" fill="#a7d0e4"/>
<rect x="262.00" y="590.55" width="25.24" height="12.90" fill="#b2d5e7"/>
<rect x="286.74" y="590.55" width="25.24" height="12.90" fill="#bcdaea"/>
<rect x="311.48" y="590.55" width="25.24" height="12.90" fill="#b2d5e7"/>
<rect x="336.22" y="590.55" width="25.24" height="12.90" fill="#bcdaea"/>
<rect x="360.95" y="590.55" width="25.24" height="12.90" fill="#bcdaea"/>
<rect x="385.69" y="590.55" width="25.24" height="12.90" fill="#d1e5f0"/>
<rect x="410.43" y="590.55" width="25.24" height="12.90" fill="#d1e5f0"/>
<rect x="435.17" y="590.55" width="25.24" height="12.90" fill="#d4e4ee"/>
<rect x="459.91" y="590.55" width="25.24" height="12.90" fill="#bcdaea"/>
<rect x="484.65" y="590.55" width="25.24" height="12.90" fill="#d1e5f0"/>
<rect x="509.38" y="590.55" width="25.24" height="12.90" fill="#d7e4eb"/>
<rect x="534.12" y="590.55" width="25.24" height="12.90" fill="#e8e1dd"/>
<rect x="558.86" y="590.55" width="25.24" height="12.90" fill="#d1e5f0"/>
<rect x="583.60" y="590.55" width="25.24" height="12.90" fill="#dee3e6"/>
<rect x="608.34" y="590.55" width="25.24" height="12.90" fill="#d4e4ee"/>
<rect x="633.08" y="590.55" width="25.24" height="12.90" fill="#c6e0ed"/>
<rect x="657.82" y="590.55" width="25.24" height="12.90" fill="#800823"/>
<rect x="682.55" y="590.55" width="25.24" height="12.90" fill="#67001f"/>
<rect x="707.29" y="590.55" width="25.24" height="12.90" fill="#f7b799"/>
<rect x="732.03" y="590.55" width="25.24" height="12.90" fill="#ea8e70"/>
<rect x="756.77" y="590.55" width="25.24" height="12.90" fill="#bcdaea"/>
<rect x="781.51" y="590.55" width="25.24" height="12.90" fill="#bcdaea"/>
<rect x="806.25" y="590.55" width="25.24" height="12.90" fill="#c6e0ed"/>
<rect x="830.98" y="590.55" width="25.24" height="12.90" fill="#c6e0ed"/>
<rect x="855.72" y="590.55" width="25.24" height="12.90" fill="#c6e0ed"/>
<rect x="880.46" y="590.55" width="25.24" height="12.90" fill="#b2d5e7"/>
<rect x="262.00" y="602.95" width="25.24" height="12.90" fill="#b2d5e7"/>
<rect x="286.74" y="602.95" width="25.24" height="12.90" fill="#c6e0ed"/>
<rect x="311.48" y="602.95" width="25.24" height="12.90" fill="#f9dccb"/>
<rect x="336.22" y="602.95" width="25.24" height="12.90" fill="#b2d5e7"/>
<rect x="360.95" y="602.95" width="25.24" height="12.90" fill="#a7d0e4"/>
<rect x="385.69" y="602.95" width="25.24" height="12.90" fill="#dee3e6"/>
<rect x="410.43" y="602.95" width="25.24" height="12.90" fill="#d1e5f0"/>
<rect x="435.17" y="602.95" width="25.24" height="12.90" fill="#d1e5f0"/>
<rect x="459.91" y="602.95" width="25.24" height="12.90" fill="#d1e5f0"/>
<rect x="484.65" y="602.95" width="25.24" height="12.90" fill="#e4e2e1"/>
<rect x="509.38" y="602.95" width="25.24" height="12.90" fill="#bcdaea"/>
<rect x="534.12" y="602.95" width="25.24" height="12.90" fill="#d1e5f0"/>
<rect x="558.86" y="602.95" width="25.24" height="12.90" fill="#c6e0ed"/>
<rect x="583.60" y="602.95" width="25.24" height="12.90" fill="#ece0d8"/>
<rect x="608.34" y="602.95" width="25.24" height="12.90" fill="#d1e5f0"/>
<rect x="633.08" y="602.95" width="25.24" height="12.90" fill="#c6e0ed"/>
<rect x="657.82" y="602.95" width="25.24" height="12.90" fill="#e58268"/>
<rect x="682.55" y="602.95" width="25.24" height="12.90" fill="#67001f"/>
<rect x="707.29" y="602.95" width="25.24" height="12.90" fill="#e58268"/>
<rect x="732.03" y="602.95" width="25.24" height="12.90" fill="#b82431"/>
<rect x="756.77" y="602.95" width="25.24" height="12.90" fill="#bcdaea"/>
<rect x="781.51" y="602.95" width="25.24" height="12.90" fill="#b2d5e7"/>
<rect x="806.25" y="602.95" width="25.24" height="12.90" fill="#b2d5e7"/>
<rect x="830.98" y="602.95" width="25.24" height="12.90" fill="#b2d5e7"/>
<rect x="855.72" y="602.95" width="25.24" height="12.90" fill="#b2d5e7"/>
<rect x="880.46" y="602.95" width="25.24" height="12.90" fill="#b2d5e7"/>
<rect x="262.00" y="615.35" width="25.24" height="12.90" fill="#bcdaea"/>
<rect x="286.74" y="615.35" width="25.24" height="12.90" fill="#d1e5f0"/>
<rect x="311.48" y="615.35" width="25.24" height="12.90" fill="#bcdaea"/>
<rect x="336.22" y="615.35" width="25.24" height="12.90" fill="#bcdaea"/>
<rect x="360.95" y="615.35" width="25.24" height="12.90" fill="#b2d5e7"/>
<rect x="385.69" y="615.35" width="25.24" height="12.90" fill="#d1e5f0"/>
<rect x="410.43" y="615.35" width="25.24" height="12.90" fill="#c6e0ed"/>
<rect x="435.17" y="615.35" width="25.24" height="12.90" fill="#c6e0ed"/>
<rect x="459.91" y="615.35" width="25.24" height="12.90" fill="#d1e5f0"/>
<rect x="484.65" y="615.35" width="25.24" height="12.90" fill="#d1e5f0"/>
<rect x="509.38" y="615.35" width="25.24" height="12.90" fill="#bcdaea"/>
<rect x="534.12" y="615.35" width="25.24" height="12.90" fill="#e1e2e4"/>
<rect x="558.86" y="615.35" width="25.24" height="12.90" fill="#c6e0ed"/>
<rect x="583.60" y="615.35" width="25.24" height="12.90" fill="#d4e4ee"/>
<rect x="608.34" y="615.35" width="25.24" height="12.90" fill="#d1e5f0"/>
<rect x="633.08" y="615.35" width="25.24" height="12.90" fill="#d1e5f0"/>
<rect x="657.82" y="615.35" width="25.24" height="12.90" fill="#db6c56"/>
<rect x="682.55" y="615.35" width="25.24" height="12.90" fill="#67001f"/>
<rect x="707.29" y="615.35" width="25.24" height="12.90" fill="#c43c3c"/>
<rect x="732.03" y="615.35" width="25.24" height="12.90" fill="#d6604d"/>
<rect x="756.77" y="615.35" width="25.24" height="12.90" fill="#c6e0ed"/>
<rect x="781.51" y="615.35" width="25.24" height="12.90" fill="#c6e0ed"/>
<rect x="806.25" y="615.35" width="25.24" height="12.90" fill="#c6e0ed"/>
<rect x="830.98" y="615.35" width="25.24" height="12.90" fill="#bcdaea"/>
<rect x="855.72" y="615.35" width="25.24" height="12.90" fill="#bcdaea"/>
<rect x="880.46" y="615.35" width="25.24" height="12.90" fill="#d4e4ee"/>
<rect x="262.00" y="627.76" width="25.24" height="12.90" fill="#d7e4eb"/>
<rect x="286.74" y="627.76" width="25.24" height="12.90" fill="#d1e5f0"/>
<rect x="311.48" y="627.76" width="25.24" height="12.90" fill="#a7d0e4"/>
<rect x="336.22" y="627.76" width="25.24" height="12.90" fill="#a7d0e4"/>
<rect x="360.95" y="627.76" width="25.24" height="12.90" fill="#c6e0ed"/>
<rect x="385.69" y="627.76" width="25.24" height="12.90" fill="#6aacd0"/>
<rect x="410.43" y="627.76" width="25.24" height="12.90" fill="#a7d0e4"/>
<rect x="435.17" y="627.76" width="25.24" height="12.90" fill="#d1e5f0"/>
<rect x="459.91" y="627.76" width="25.24" height="12.90" fill="#a7d0e4"/>
<rect x="484.65" y="627.76" width="25.24" height="12.90" fill="#a7d0e4"/>
<rect x="509.38" y="627.76" width="25.24" height="12.90" fill="#a7d0e4"/>
<rect x="534.12" y="627.76" width="25.24" height="12.90" fill="#dee3e6"/>
<rect x="558.86" y="627.76" width="25.24" height="12.90" fill="#bcdaea"/>
<rect x="583.60" y="627.76" width="25.24" height="12.90" fill="#dae4e8"/>
<rect x="608.34" y="627.76" width="25.24" height="12.90" fill="#bcdaea"/>
<rect x="633.08" y="627.76" width="25.24" height="12.90" fill="#bcdaea"/>
<rect x="657.82" y="627.76" width="25.24" height="12.90" fill="#b82431"/>
<rect x="682.55" y="627.76" width="25.24" height="12.90" fill="#ef9a79"/>
<rect x="707.29" y="627.76" width="25.24" height="12.90" fill="#8c0c25"/>
<rect x="732.03" y="627.76" width="25.24" height="12.90" fill="#c43c3c"/>
<rect x="756.77" y="627.76" width="25.24" height="12.90" fill="#c6e0ed"/>
<rect x="781.51" y="627.76" width="25.24" height="12.90" fill="#e4e2e1"/>
<rect x="806.25" y="627.76" width="25.24" height="12.90" fill="#fcd2bc"/>
<rect x="830.98" y="627.76" width="25.24" height="12.90" fill="#e8e1dd"/>
<rect x="855.72" y="627.76" width="25.24" height="12.90" fill="#c6e0ed"/>
<rect x="880.46" y="627.76" width="25.24" height="12.90" fill="#fddbc7"/>
<rect x="262.00" y="640.16" width="25.24" height="12.90" fill="#e8e1dd"/>
<rect x="286.74" y="640.16" width="25.24" height="12.90" fill="#e4e2e1"/>
<rect x="311.48" y="640.16" width="25.24" height="12.90" fill="#d1e5f0"/>
<rect x="336.22" y="640.16" width="25.24" height="12.90" fill="#c6e0ed"/>
<rect x="360.95" y="640.16" width="25.24" height="12.90" fill="#d4e4ee"/>
<rect x="385.69" y="640.16" width="25.24" height="12.90" fill="#c6e0ed"/>
<rect x="410.43" y="640.16" width="25.24" height="12.90" fill="#fddbc7"/>
<rect x="435.17" y="640.16" width="25.24" height="12.90" fill="#f8c0a4"/>
<rect x="459.91" y="640.16" width="25.24" height="12.90" fill="#a7d0e4"/>
<rect x="484.65" y="640.16" width="25.24" height="12.90" fill="#e4e2e1"/>
<rect x="509.38" y="640.16" width="25.24" height="12.90" fill="#f5ddd0"/>
<rect x="534.12" y="640.16" width="25.24" height="12.90" fill="#c6e0ed"/>
<rect x="558.86" y="640.16" width="25.24" height="12.90" fill="#c6e0ed"/>
<rect x="583.60" y="640.16" width="25.24" height="12.90" fill="#dae4e8"/>
<rect x="608.34" y="640.16" width="25.24" height="12.90" fill="#d7e4eb"/>
<rect x="633.08" y="640.16" width="25.24" height="12.90" fill="#dee3e6"/>
<rect x="657.82" y="640.16" width="25.24" height="12.90" fill="#991027"/>
<rect x="682.55" y="640.16" width="25.24" height="12.90" fill="#be3036"/>
<rect x="707.29" y="640.16" width="25.24" height="12.90" fill="#c43c3c"/>
<rect x="732.03" y="640.16" width="25.24" height="12.90" fill="#ef9a79"/>
<rect x="756.77" y="640.16" width="25.24" height="12.90" fill="#85bdda"/>
<rect x="781.51" y="640.16" width="25.24" height="12.90" fill="#a7d0e4"/>
<rect x="806.25" y="640.16" width="25.24" height="12.90" fill="#a7d0e4"/>
<rect x="830.98" y="640.16" width="25.24" height="12.90" fill="#92c5de"/>
<rect x="855.72" y="640.16" width="25.24" height="12.90" fill="#92c5de"/>
<rect x="880.46" y="640.16" width="25.24" height="12.90" fill="#92c5de"/>
<rect x="262.00" y="652.56" width="25.24" height="12.90" fill="#9ccae1"/>
<rect x="286.74" y="652.56" width="25.24" height="12.90" fill="#b2d5e7"/>
<rect x="311.48" y="652.56" width="25.24" height="12.90" fill="#d4e4ee"/>
<rect x="336.22" y="652.56" width="25.24" height="12.90" fill="#bcdaea"/>
<rect x="360.95" y="652.56" width="25.24" height="12.90" fill="#a7d0e4"/>
<rect x="385.69" y="652.56" width="25.24" height="12.90" fill="#9ccae1"/>
<rect x="410.43" y="652.56" width="25.24" height="12.90" fill="#dee3e6"/>
<rect x="435.17" y="652.56" width="25.24" height="12.90" fill="#bcdaea"/>
<rect x="459.91" y="652.56" width="25.24" height="12.90" fill="#e4e2e1"/>
<rect x="484.65" y="652.56" width="25.24" height="12.90" fill="#c6e0ed"/>
<rect x="509.38" y="652.56" width="25.24" height="12.90" fill="#9ccae1"/>
<rect x="534.12" y="652.56" width="25.24" height="12.90" fill="#a7d0e4"/>
<rect x="558.86" y="652.56" width="25.24" height="12.90" fill="#e8e1dd"/>
<rect x="583.60" y="652.56" width="25.24" height="12.90" fill="#dee3e6"/>
<rect x="608.34" y="652.56" width="25.24" height="12.90" fill="#78b4d5"/>
<rect x="633.08" y="652.56" width="25.24" height="12.90" fill="#c6e0ed"/>
<rect x="657.82" y="652.56" width="25.24" height="12.90" fill="#e58268"/>
<rect x="682.55" y="652.56" width="25.24" height="12.90" fill="#d05447"/>
<rect x="707.29" y="652.56" width="25.24" height="12.90" fill="#b2182b"/>
<rect x="732.03" y="652.56" width="25.24" height="12.90" fill="#a61429"/>
<rect x="756.77" y="652.56" width="25.24" height="12.90" fill="#f7b799"/>
<rect x="781.51" y="652.56" width="25.24" height="12.90" fill="#e8e1dd"/>
<rect x="806.25" y="652.56" width="25.24" height="12.90" fill="#f5ddd0"/>
<rect x="830.98" y="652.56" width="25.24" height="12.90" fill="#bcdaea"/>
<rect x="855.72" y="652.56" width="25.24" height="12.90" fill="#f5ddd0"/>
<rect x="880.46" y="652.56" width="25.24" height="12.90" fill="#e4e2e1"/>
<rect x="262.00" y="664.96" width="25.24" height="12.90" fill="#d1e5f0"/>
<rect x="286.74" y="664.96" width="25.24" height="12.90" fill="#e8e1dd"/>
<rect x="311.48" y="664.96" width="25.24" height="12.90" fill="#d7e4eb"/>
<rect x="336.22" y="664.96" width="25.24" height="12.90" fill="#d1e5f0"/>
<rect x="360.95" y="664.96" width="25.24" height="12.90" fill="#a7d0e4"/>
<rect x="385.69" y="664.96" width="25.24" height="12.90" fill="#9ccae1"/>
<rect x="410.43" y="664.96" width="25.24" height="12.90" fill="#f0ded4"/>
<rect x="435.17" y="664.96" width="25.24" height="12.90" fill="#6aacd0"/>
<rect x="459.91" y="664.96" width="25.24" height="12.90" fill="#d1e5f0"/>
<rect x="484.65" y="664.96" width="25.24" height="12.90" fill="#9ccae1"/>
<rect x="509.38" y="664.96" width="25.24" height="12.90" fill="#d1e5f0"/>
<rect x="534.12" y="664.96" width="25.24" height="12.90" fill="#b2d5e7"/>
<rect x="558.86" y="664.96" width="25.24" height="12.90" fill="#d1e5f0"/>
<rect x="583.60" y="664.96" width="25.24" height="12.90" fill="#b2d5e7"/>
<rect x="608.34" y="664.96" width="25.24" height="12.90" fill="#a7d0e4"/>
<rect x="633.08" y="664.96" width="25.24" height="12.90" fill="#b2d5e7"/>
<rect x="657.82" y="664.96" width="25.24" height="12.90" fill="#ea8e70"/>
<rect x="682.55" y="664.96" width="25.24" height="12.90" fill="#8c0c25"/>
<rect x="707.29" y="664.96" width="25.24" height="12.90" fill="#a61429"/>
<rect x="732.03" y="664.96" width="25.24" height="12.90" fill="#db6c56"/>
<rect x="756.77" y="664.96" width="25.24" height="12.90" fill="#f0ded4"/>
<rect x="781.51" y="664.96" width="25.24" height="12.90" fill="#e4e2e1"/>
<rect x="806.25" y="664.96" width="25.24" height="12.90" fill="#f0ded4"/>
<rect x="830.98" y="664.96" width="25.24" height="12.90" fill="#c6e0ed"/>
<rect x="855.72" y="664.96" width="25.24" height="12.90" fill="#ece0d8"/>
<rect x="880.46" y="664.96" width="25.24" height="12.90" fill="#fac9b0"/>
<rect x="262.00" y="677.36" width="25.24" height="12.90" fill="#fddbc7"/>
<rect x="286.74" y="677.36" width="25.24" height="12.90" fill="#ea8e70"/>
<rect x="311.48" y="677.36" width="25.24" height="12.90" fill="#dae4e8"/>
<rect x="336.22" y="677.36" width="25.24" height="12.90" fill="#f8c0a4"/>
<rect x="360.95" y="677.36" width="25.24" height="12.90" fill="#f5ddd0"/>
<rect x="385.69" y="677.36" width="25.24" height="12.90" fill="#b2d5e7"/>
<rect x="410.43" y="677.36" width="25.24" height="12.90" fill="#d4e4ee"/>
<rect x="435.17" y="677.36" width="25.24" height="12.90" fill="#b2d5e7"/>
<rect x="459.91" y="677.36" width="25.24" height="12.90" fill="#b2d5e7"/>
<rect x="484.65" y="677.36" width="25.24" height="12.90" fill="#a7d0e4"/>
<rect x="509.38" y="677.36" width="25.24" height="12.90" fill="#d4e4ee"/>
<rect x="534.12" y="677.36" width="25.24" height="12.90" fill="#85bdda"/>
<rect x="558.86" y="677.36" width="25.24" height="12.90" fill="#b2d5e7"/>
<rect x="583.60" y="677.36" width="25.24" height="12.90" fill="#b2d5e7"/>
<rect x="608.34" y="677.36" width="25.24" height="12.90" fill="#b2d5e7"/>
<rect x="633.08" y="677.36" width="25.24" height="12.90" fill="#c6e0ed"/>
<rect x="657.82" y="677.36" width="25.24" height="12.90" fill="#be3036"/>
<rect x="682.55" y="677.36" width="25.24" height="12.90" fill="#b2182b"/>
<rect x="707.29" y="677.36" width="25.24" height="12.90" fill="#f6ae8d"/>
<rect x="732.03" y="677.36" width="25.24" height="12.90" fill="#b2182b"/>
<rect x="756.77" y="677.36" width="25.24" height="12.90" fill="#85bdda"/>
<rect x="781.51" y="677.36" width="25.24" height="12.90" fill="#c6e0ed"/>
<rect x="806.25" y="677.36" width="25.24" height="12.90" fill="#d1e5f0"/>
<rect x="830.98" y="677.36" width="25.24" height="12.90" fill="#b2d5e7"/>
<rect x="855.72" y="677.36" width="25.24" height="12.90" fill="#c6e0ed"/>
<rect x="880.46" y="677.36" width="25.24" height="12.90" fill="#e1e2e4"/>
<rect x="262.00" y="689.77" width="25.24" height="12.90" fill="#ece0d8"/>
<rect x="286.74" y="689.77" width="25.24" height="12.90" fill="#e8e1dd"/>
<rect x="311.48" y="689.77" width="25.24" height="12.90" fill="#dae4e8"/>
<rect x="336.22" y="689.77" width="25.24" height="12.90" fill="#fddbc7"/>
<rect x="360.95" y="689.77" width="25.24" height="12.90" fill="#dee3e6"/>
<rect x="385.69" y="689.77" width="25.24" height="12.90" fill="#b2d5e7"/>
<rect x="410.43" y="689.77" width="25.24" height="12.90" fill="#b2d5e7"/>
<rect x="435.17" y="689.77" width="25.24" height="12.90" fill="#e1e2e4"/>
<rect x="459.91" y="689.77" width="25.24" height="12.90" fill="#bcdaea"/>
<rect x="484.65" y="689.77" width="25.24" height="12.90" fill="#a7d0e4"/>
<rect x="509.38" y="689.77" width="25.24" height="12.90" fill="#e4e2e1"/>
<rect x="534.12" y="689.77" width="25.24" height="12.90" fill="#bcdaea"/>
<rect x="558.86" y="689.77" width="25.24" height="12.90" fill="#bcdaea"/>
<rect x="583.60" y="689.77" width="25.24" height="12.90" fill="#b2d5e7"/>
<rect x="608.34" y="689.77" width="25.24" height="12.90" fill="#b2d5e7"/>
<rect x="633.08" y="689.77" width="25.24" height="12.90" fill="#bcdaea"/>
<rect x="657.82" y="689.77" width="25.24" height="12.90" fill="#b2182b"/>
<rect x="682.55" y="689.77" width="25.24" height="12.90" fill="#67001f"/>
<rect x="707.29" y="689.77" width="25.24" height="12.90" fill="#e58268"/>
<rect x="732.03" y="689.77" width="25.24" height="12.90" fill="#d05447"/>
<rect x="756.77" y="689.77" width="25.24" height="12.90" fill="#92c5de"/>
<rect x="781.51" y="689.77" width="25.24" height="12.90" fill="#a7d0e4"/>
<rect x="806.25" y="689.77" width="25.24" height="12.90" fill="#f5ddd0"/>
<rect x="830.98" y="689.77" width="25.24" height="12.90" fill="#bcdaea"/>
<rect x="855.72" y="689.77" width="25.24" height="12.90" fill="#b2d5e7"/>
<rect x="880.46" y="689.77" width="25.24" height="12.90" fill="#c6e0ed"/>
<rect x="262.00" y="702.17" width="25.24" height="12.90" fill="#f9dccb"/>
<rect x="286.74" y="702.17" width="25.24" height="12.90" fill="#e4e2e1"/>
<rect x="311.48" y="702.17" width="25.24" height="12.90" fill="#f6ae8d"/>
<rect x="336.22" y="702.17" width="25.24" height="12.90" fill="#fcd2bc"/>
<rect x="360.95" y="702.17" width="25.24" height="12.90" fill="#dee3e6"/>
<rect x="385.69" y="702.17" width="25.24" height="12.90" fill="#c6e0ed"/>
<rect x="410.43" y="702.17" width="25.24" height="12.90" fill="#d1e5f0"/>
<rect x="435.17" y="702.17" width="25.24" height="12.90" fill="#a7d0e4"/>
<rect x="459.91" y="702.17" width="25.24" height="12.90" fill="#a7d0e4"/>
<rect x="484.65" y="702.17" width="25.24" height="12.90" fill="#bcdaea"/>
<rect x="509.38" y="702.17" width="25.24" height="12.90" fill="#bcdaea"/>
<rect x="534.12" y="702.17" width="25.24" height="12.90" fill="#d7e4eb"/>
<rect x="558.86" y="702.17" width="25.24" height="12.90" fill="#bcdaea"/>
<rect x="583.60" y="702.17" width="25.24" height="12.90" fill="#b2d5e7"/>
<rect x="608.34" y="702.17" width="25.24" height="12.90" fill="#a7d0e4"/>
<rect x="633.08" y="702.17" width="25.24" height="12.90" fill="#9ccae1"/>
<rect x="657.82" y="702.17" width="25.24" height="12.90" fill="#f6ae8d"/>
<rect x="682.55" y="702.17" width="25.24" height="12.90" fill="#c43c3c"/>
<rect x="707.29" y="702.17" width="25.24" height="12.90" fill="#b2182b"/>
<rect x="732.03" y="702.17" width="25.24" height="12.90" fill="#800823"/>
<rect x="756.77" y="702.17" width="25.24" height="12.90" fill="#92c5de"/>
<rect x="781.51" y="702.17" width="25.24" height="12.90" fill="#b2d5e7"/>
<rect x="806.25" y="702.17" width="25.24" height="12.90" fill="#b2d5e7"/>
<rect x="830.98" y="702.17" width="25.24" height="12.90" fill="#e8e1dd"/>
<rect x="855.72" y="702.17" width="25.24" height="12.90" fill="#ece0d8"/>
<rect x="880.46" y="702.17" width="25.24" height="12.90" fill="#d4e4ee"/>
<rect x="262.00" y="714.57" width="25.24" height="12.90" fill="#b2d5e7"/>
<rect x="286.74" y="714.57" width="25.24" height="12.90" fill="#e8e1dd"/>
<rect x="311.48" y="714.57" width="25.24" height="12.90" fill="#e8e1dd"/>
<rect x="336.22" y="714.57" width="25.24" height="12.90" fill="#b2d5e7"/>
<rect x="360.95" y="714.57" width="25.24" height="12.90" fill="#a7d0e4"/>
<rect x="385.69" y="714.57" width="25.24" height="12.90" fill="#d1e5f0"/>
<rect x="410.43" y="714.57" width="25.24" height="12.90" fill="#b2d5e7"/>
<rect x="435.17" y="714.57" width="25.24" height="12.90" fill="#bcdaea"/>
<rect x="459.91" y="714.57" width="25.24" height="12.90" fill="#bcdaea"/>
<rect x="484.65" y="714.57" width="25.24" height="12.90" fill="#e4e2e1"/>
<rect x="509.38" y="714.57" width="25.24" height="12.90" fill="#bcdaea"/>
<rect x="534.12" y="714.57" width="25.24" height="12.90" fill="#c6e0ed"/>
<rect x="558.86" y="714.57" width="25.24" height="12.90" fill="#bcdaea"/>
<rect x="583.60" y="714.57" width="25.24" height="12.90" fill="#6aacd0"/>
<rect x="608.34" y="714.57" width="25.24" height="12.90" fill="#6aacd0"/>
<rect x="633.08" y="714.57" width="25.24" height="12.90" fill="#78b4d5"/>
<rect x="657.82" y="714.57" width="25.24" height="12.90" fill="#991027"/>
<rect x="682.55" y="714.57" width="25.24" height="12.90" fill="#d05447"/>
<rect x="707.29" y="714.57" width="25.24" height="12.90" fill="#ea8e70"/>
<rect x="732.03" y="714.57" width="25.24" height="12.90" fill="#d05447"/>
<rect x="756.77" y="714.57" width="25.24" height="12.90" fill="#f7b799"/>
<rect x="781.51" y="714.57" width="25.24" height="12.90" fill="#e1e2e4"/>
<rect x="806.25" y="714.57" width="25.24" height="12.90" fill="#f5ddd0"/>
<rect x="830.98" y="714.57" width="25.24" height="12.90" fill="#f4a582"/>
<rect x="855.72" y="714.57" width="25.24" height="12.90" fill="#f5ddd0"/>
<rect x="880.46" y="714.57" width="25.24" height="12.90" fill="#f9dccb"/>
<rect x="262.00" y="726.97" width="25.24" height="12.90" fill="#e4e2e1"/>
<rect x="286.74" y="726.97" width="25.24" height="12.90" fill="#fac9b0"/>
<rect x="311.48" y="726.97" width="25.24" height="12.90" fill="#b2d5e7"/>
<rect x="336.22" y="726.97" width="25.24" height="12.90" fill="#d4e4ee"/>
<rect x="360.95" y="726.97" width="25.24" height="12.90" fill="#d4e4ee"/>
<rect x="385.69" y="726.97" width="25.24" height="12.90" fill="#9ccae1"/>
<rect x="410.43" y="726.97" width="25.24" height="12.90" fill="#92c5de"/>
<rect x="435.17" y="726.97" width="25.24" height="12.90" fill="#9ccae1"/>
<rect x="459.91" y="726.97" width="25.24" height="12.90" fill="#b2d5e7"/>
<rect x="484.65" y="726.97" width="25.24" height="12.90" fill="#b2d5e7"/>
<rect x="509.38" y="726.97" width="25.24" height="12.90" fill="#b2d5e7"/>
<rect x="534.12" y="726.97" width="25.24" height="12.90" fill="#78b4d5"/>
<rect x="558.86" y="726.97" width="25.24" height="12.90" fill="#78b4d5"/>
<rect x="583.60" y="726.97" width="25.24" height="12.90" fill="#9ccae1"/>
<rect x="608.34" y="726.97" width="25.24" height="12.90" fill="#d1e5f0"/>
<rect x="633.08" y="726.97" width="25.24" height="12.90" fill="#c6e0ed"/>
<rect x="657.82" y="726.97" width="25.24" height="12.90" fill="#d05447"/>
<rect x="682.55" y="726.97" width="25.24" height="12.90" fill="#db6c56"/>
<rect x="707.29" y="726.97" width="25.24" height="12.90" fill="#e0775f"/>
<rect x="732.03" y="726.97" width="25.24" height="12.90" fill="#b2182b"/>
<rect x="756.77" y="726.97" width="25.24" height="12.90" fill="#f6ae8d"/>
<rect x="781.51" y="726.97" width="25.24" height="12.90" fill="#f9dccb"/>
<rect x="806.25" y="726.97" width="25.24" height="12.90" fill="#f4a582"/>
<rect x="830.98" y="726.97" width="25.24" height="12.90" fill="#ece0d8"/>
<rect x="855.72" y="726.97" width="25.24" height="12.90" fill="#ece0d8"/>
<rect x="880.46" y="726.97" width="25.24" height="12.90" fill="#f6ae8d"/>
<rect x="262.00" y="739.37" width="25.24" height="12.90" fill="#db6c56"/>
<rect x="286.74" y="739.37" width="25.24" height="12.90" fill="#be3036"/>
<rect x="311.48" y="739.37" width="25.24" height="12.90" fill="#c43c3c"/>
<rect x="336.22" y="739.37" width="25.24" height="12.90" fill="#db6c56"/>
<rect x="360.95" y="739.37" width="25.24" height="12.90" fill="#d6604d"/>
<rect x="385.69" y="739.37" width="25.24" height="12.90" fill="#a7d0e4"/>
<rect x="410.43" y="739.37" width="25.24" height="12.90" fill="#c6e0ed"/>
<rect x="435.17" y="739.37" width="25.24" height="12.90" fill="#b2d5e7"/>
<rect x="459.91" y="739.37" width="25.24" height="12.90" fill="#d1e5f0"/>
<rect x="484.65" y="739.37" width="25.24" height="12.90" fill="#e8e1dd"/>
<rect x="509.38" y="739.37" width="25.24" height="12.90" fill="#dee3e6"/>
<rect x="534.12" y="739.37" width="25.24" height="12.90" fill="#b2d5e7"/>
<rect x="558.86" y="739.37" width="25.24" height="12.90" fill="#bcdaea"/>
<rect x="583.60" y="739.37" width="25.24" height="12.90" fill="#bcdaea"/>
<rect x="608.34" y="739.37" width="25.24" height="12.90" fill="#a7d0e4"/>
<rect x="633.08" y="739.37" width="25.24" height="12.90" fill="#d1e5f0"/>
<rect x="657.82" y="739.37" width="25.24" height="12.90" fill="#fddbc7"/>
<rect x="682.55" y="739.37" width="25.24" height="12.90" fill="#ea8e70"/>
<rect x="707.29" y="739.37" width="25.24" height="12.90" fill="#c6e0ed"/>
<rect x="732.03" y="739.37" width="25.24" height="12.90" fill="#f0ded4"/>
<rect x="756.77" y="739.37" width="25.24" height="12.90" fill="#9ccae1"/>
<rect x="781.51" y="739.37" width="25.24" height="12.90" fill="#9ccae1"/>
<rect x="806.25" y="739.37" width="25.24" height="12.90" fill="#9ccae1"/>
<rect x="830.98" y="739.37" width="25.24" height="12.90" fill="#9ccae1"/>
<rect x="855.72" y="739.37" width="25.24" height="12.90" fill="#9ccae1"/>
<rect x="880.46" y="739.37" width="25.24" height="12.90" fill="#9ccae1"/>
<rect x="262.00" y="751.78" width="25.24" height="12.90" fill="#e58268"/>
<rect x="286.74" y="751.78" width="25.24" height="12.90" fill="#8c0c25"/>
<rect x="311.48" y="751.78" width="25.24" height="12.90" fill="#b82431"/>
<rect x="336.22" y="751.78" width="25.24" height="12.90" fill="#e0775f"/>
<rect x="360.95" y="751.78" width="25.24" height="12.90" fill="#c43c3c"/>
<rect x="385.69" y="751.78" width="25.24" height="12.90" fill="#bcdaea"/>
<rect x="410.43" y="751.78" width="25.24" height="12.90" fill="#c6e0ed"/>
<rect x="435.17" y="751.78" width="25.24" height="12.90" fill="#c6e0ed"/>
<rect x="459.91" y="751.78" width="25.24" height="12.90" fill="#c6e0ed"/>
<rect x="484.65" y="751.78" width="25.24" height="12.90" fill="#b2d5e7"/>
<rect x="509.38" y="751.78" width="25.24" height="12.90" fill="#d7e4eb"/>
<rect x="534.12" y="751.78" width="25.24" height="12.90" fill="#bcdaea"/>
<rect x="558.86" y="751.78" width="25.24" height="12.90" fill="#bcdaea"/>
<rect x="583.60" y="751.78" width="25.24" height="12.90" fill="#bcdaea"/>
<rect x="608.34" y="751.78" width="25.24" height="12.90" fill="#b2d5e7"/>
<rect x="633.08" y="751.78" width="25.24" height="12.90" fill="#bcdaea"/>
<rect x="657.82" y="751.78" width="25.24" height="12.90" fill="#d1e5f0"/>
<rect x="682.55" y="751.78" width="25.24" height="12.90" fill="#fddbc7"/>
<rect x="707.29" y="751.78" width="25.24" height="12.90" fill="#e4e2e1"/>
<rect x="732.03" y="751.78" width="25.24" height="12.90" fill="#d1e5f0"/>
<rect x="756.77" y="751.78" width="25.24" height="12.90" fill="#a7d0e4"/>
<rect x="781.51" y="751.78" width="25.24" height="12.90" fill="#a7d0e4"/>
<rect x="806.25" y="751.78" width="25.24" height="12.90" fill="#a7d0e4"/>
<rect x="830.98" y="751.78" width="25.24" height="12.90" fill="#a7d0e4"/>
<rect x="855.72" y="751.78" width="25.24" height="12.90" fill="#a7d0e4"/>
<rect x="880.46" y="751.78" width="25.24" height="12.90" fill="#a7d0e4"/>
<rect x="262.00" y="764.18" width="25.24" height="12.90" fill="#d05447"/>
<rect x="286.74" y="764.18" width="25.24" height="12.90" fill="#e0775f"/>
<rect x="311.48" y="764.18" width="25.24" height="12.90" fill="#f7b799"/>
<rect x="336.22" y="764.18" width="25.24" height="12.90" fill="#a61429"/>
<rect x="360.95" y="764.18" width="25.24" height="12.90" fill="#991027"/>
<rect x="385.69" y="764.18" width="25.24" height="12.90" fill="#a7d0e4"/>
<rect x="410.43" y="764.18" width="25.24" height="12.90" fill="#d1e5f0"/>
<rect x="435.17" y="764.18" width="25.24" height="12.90" fill="#d7e4eb"/>
<rect x="459.91" y="764.18" width="25.24" height="12.90" fill="#d4e4ee"/>
<rect x="484.65" y="764.18" width="25.24" height="12.90" fill="#e4e2e1"/>
<rect x="509.38" y="764.18" width="25.24" height="12.90" fill="#e8e1dd"/>
<rect x="534.12" y="764.18" width="25.24" height="12.90" fill="#b2d5e7"/>
<rect x="558.86" y="764.18" width="25.24" height="12.90" fill="#bcdaea"/>
<rect x="583.60" y="764.18" width="25.24" height="12.90" fill="#c6e0ed"/>
<rect x="608.34" y="764.18" width="25.24" height="12.90" fill="#b2d5e7"/>
<rect x="633.08" y="764.18" width="25.24" height="12.90" fill="#d1e5f0"/>
<rect x="657.82" y="764.18" width="25.24" height="12.90" fill="#f9dccb"/>
<rect x="682.55" y="764.18" width="25.24" height="12.90" fill="#fcd2bc"/>
<rect x="707.29" y="764.18" width="25.24" height="12.90" fill="#d1e5f0"/>
<rect x="732.03" y="764.18" width="25.24" height="12.90" fill="#c6e0ed"/>
<rect x="756.77" y="764.18" width="25.24" height="12.90" fill="#a7d0e4"/>
<rect x="781.51" y="764.18" width="25.24" height="12.90" fill="#a7d0e4"/>
<rect x="806.25" y="764.18" width="25.24" height="12.90" fill="#a7d0e4"/>
<rect x="830.98" y="764.18" width="25.24" height="12.90" fill="#a7d0e4"/>
<rect x="855.72" y="764.18" width="25.24" height="12.90" fill="#a7d0e4"/>
<rect x="880.46" y="764.18" width="25.24" height="12.90" fill="#a7d0e4"/>
<rect x="262.00" y="776.58" width="25.24" height="12.90" fill="#fcd2bc"/>
<rect x="286.74" y="776.58" width="25.24" height="12.90" fill="#ca4842"/>
<rect x="311.48" y="776.58" width="25.24" height="12.90" fill="#b82431"/>
<rect x="336.22" y="776.58" width="25.24" height="12.90" fill="#be3036"/>
<rect x="360.95" y="776.58" width="25.24" height="12.90" fill="#c43c3c"/>
<rect x="385.69" y="776.58" width="25.24" height="12.90" fill="#eedfd6"/>
<rect x="410.43" y="776.58" width="25.24" height="12.90" fill="#d4e4ee"/>
<rect x="435.17" y="776.58" width="25.24" height="12.90" fill="#d4e4ee"/>
<rect x="459.91" y="776.58" width="25.24" height="12.90" fill="#d1e5f0"/>
<rect x="484.65" y="776.58" width="25.24" height="12.90" fill="#f5ddd0"/>
<rect x="509.38" y="776.58" width="25.24" height="12.90" fill="#ece0d8"/>
<rect x="534.12" y="776.58" width="25.24" height="12.90" fill="#c6e0ed"/>
<rect x="558.86" y="776.58" width="25.24" height="12.90" fill="#dae4e8"/>
<rect x="583.60" y="776.58" width="25.24" height="12.90" fill="#bcdaea"/>
<rect x="608.34" y="776.58" width="25.24" height="12.90" fill="#a7d0e4"/>
<rect x="633.08" y="776.58" width="25.24" height="12.90" fill="#d4e4ee"/>
<rect x="657.82" y="776.58" width="25.24" height="12.90" fill="#c6e0ed"/>
<rect x="682.55" y="776.58" width="25.24" height="12.90" fill="#bcdaea"/>
<rect x="707.29" y="776.58" width="25.24" height="12.90" fill="#d1e5f0"/>
<rect x="732.03" y="776.58" width="25.24" height="12.90" fill="#b2d5e7"/>
<rect x="756.77" y="776.58" width="25.24" height="12.90" fill="#92c5de"/>
<rect x="781.51" y="776.58" width="25.24" height="12.90" fill="#92c5de"/>
<rect x="806.25" y="776.58" width="25.24" height="12.90" fill="#9ccae1"/>
<rect x="830.98" y="776.58" width="25.24" height="12.90" fill="#92c5de"/>
<rect x="855.72" y="776.58" width="25.24" height="12.90" fill="#a7d0e4"/>
<rect x="880.46" y="776.58" width="25.24" height="12.90" fill="#9ccae1"/>
<rect x="262.00" y="788.98" width="25.24" height="12.90" fill="#d6604d"/>
<rect x="286.74" y="788.98" width="25.24" height="12.90" fill="#e0775f"/>
<rect x="311.48" y="788.98" width="25.24" height="12.90" fill="#c43c3c"/>
<rect x="336.22" y="788.98" width="25.24" height="12.90" fill="#991027"/>
<rect x="360.95" y="788.98" width="25.24" height="12.90" fill="#c43c3c"/>
<rect x="385.69" y="788.98" width="25.24" height="12.90" fill="#bcdaea"/>
<rect x="410.43" y="788.98" width="25.24" height="12.90" fill="#bcdaea"/>
<rect x="435.17" y="788.98" width="25.24" height="12.90" fill="#bcdaea"/>
<rect x="459.91" y="788.98" width="25.24" height="12.90" fill="#bcdaea"/>
<rect x="484.65" y="788.98" width="25.24" height="12.90" fill="#bcdaea"/>
<rect x="509.38" y="788.98" width="25.24" height="12.90" fill="#bcdaea"/>
<rect x="534.12" y="788.98" width="25.24" height="12.90" fill="#bcdaea"/>
<rect x="558.86" y="788.98" width="25.24" height="12.90" fill="#bcdaea"/>
<rect x="583.60" y="788.98" width="25.24" height="12.90" fill="#bcdaea"/>
<rect x="608.34" y="788.98" width="25.24" height="12.90" fill="#bcdaea"/>
<rect x="633.08" y="788.98" width="25.24" height="12.90" fill="#bcdaea"/>
<rect x="657.82" y="788.98" width="25.24" height="12.90" fill="#bcdaea"/>
<rect x="682.55" y="788.98" width="25.24" height="12.90" fill="#bcdaea"/>
<rect x="707.29" y="788.98" width="25.24" height="12.90" fill="#bcdaea"/>
<rect x="732.03" y="788.98" width="25.24" height="12.90" fill="#bcdaea"/>
<rect x="756.77" y="788.98" width="25.24" height="12.90" fill="#bcdaea"/>
<rect x="781.51" y="788.98" width="25.24" height="12.90" fill="#fddbc7"/>
<rect x="806.25" y="788.98" width="25.24" height="12.90" fill="#bcdaea"/>
<rect x="830.98" y="788.98" width="25.24" height="12.90" fill="#bcdaea"/>
<rect x="855.72" y="788.98" width="25.24" height="12.90" fill="#bcdaea"/>
<rect x="880.46" y="788.98" width="25.24" height="12.90" fill="#bcdaea"/>
<rect x="262.00" y="801.38" width="25.24" height="12.90" fill="#c43c3c"/>
<rect x="286.74" y="801.38" width="25.24" height="12.90" fill="#f8c0a4"/>
<rect x="311.48" y="801.38" width="25.24" height="12.90" fill="#991027"/>
<rect x="336.22" y="801.38" width="25.24" height="12.90" fill="#d05447"/>
<rect x="360.95" y="801.38" width="25.24" height="12.90" fill="#c43c3c"/>
<rect x="385.69" y="801.38" width="25.24" height="12.90" fill="#bcdaea"/>
<rect x="410.43" y="801.38" width="25.24" height="12.90" fill="#bcdaea"/>
<rect x="435.17" y="801.38" width="25.24" height="12.90" fill="#bcdaea"/>
<rect x="459.91" y="801.38" width="25.24" height="12.90" fill="#bcdaea"/>
<rect x="484.65" y="801.38" width="25.24" height="12.90" fill="#bcdaea"/>
<rect x="509.38" y="801.38" width="25.24" height="12.90" fill="#fddbc7"/>
<rect x="534.12" y="801.38" width="25.24" height="12.90" fill="#d1e5f0"/>
<rect x="558.86" y="801.38" width="25.24" height="12.90" fill="#bcdaea"/>
<rect x="583.60" y="801.38" width="25.24" height="12.90" fill="#bcdaea"/>
<rect x="608.34" y="801.38" width="25.24" height="12.90" fill="#bcdaea"/>
<rect x="633.08" y="801.38" width="25.24" height="12.90" fill="#bcdaea"/>
<rect x="657.82" y="801.38" width="25.24" height="12.90" fill="#bcdaea"/>
<rect x="682.55" y="801.38" width="25.24" height="12.90" fill="#bcdaea"/>
<rect x="707.29" y="801.38" width="25.24" height="12.90" fill="#bcdaea"/>
<rect x="732.03" y="801.38" width="25.24" height="12.90" fill="#d4e4ee"/>
<rect x="756.77" y="801.38" width="25.24" height="12.90" fill="#bcdaea"/>
<rect x="781.51" y="801.38" width="25.24" height="12.90" fill="#bcdaea"/>
<rect x="806.25" y="801.38" width="25.24" height="12.90" fill="#bcdaea"/>
<rect x="830.98" y="801.38" width="25.24" height="12.90" fill="#bcdaea"/>
<rect x="855.72" y="801.38" width="25.24" height="12.90" fill="#bcdaea"/>
<rect x="880.46" y="801.38" width="25.24" height="12.90" fill="#bcdaea"/>
<rect x="262.00" y="813.79" width="25.24" height="12.90" fill="#b2182b"/>
<rect x="286.74" y="813.79" width="25.24" height="12.90" fill="#d6604d"/>
<rect x="311.48" y="813.79" width="25.24" height="12.90" fill="#c43c3c"/>
<rect x="336.22" y="813.79" width="25.24" height="12.90" fill="#e0775f"/>
<rect x="360.95" y="813.79" width="25.24" height="12.90" fill="#c43c3c"/>
<rect x="385.69" y="813.79" width="25.24" height="12.90" fill="#a7d0e4"/>
<rect x="410.43" y="813.79" width="25.24" height="12.90" fill="#e8e1dd"/>
<rect x="435.17" y="813.79" width="25.24" height="12.90" fill="#dee3e6"/>
<rect x="459.91" y="813.79" width="25.24" height="12.90" fill="#d7e4eb"/>
<rect x="484.65" y="813.79" width="25.24" height="12.90" fill="#e1e2e4"/>
<rect x="509.38" y="813.79" width="25.24" height="12.90" fill="#f9dccb"/>
<rect x="534.12" y="813.79" width="25.24" height="12.90" fill="#a7d0e4"/>
<rect x="558.86" y="813.79" width="25.24" height="12.90" fill="#d1e5f0"/>
<rect x="583.60" y="813.79" width="25.24" height="12.90" fill="#d1e5f0"/>
<rect x="608.34" y="813.79" width="25.24" height="12.90" fill="#b2d5e7"/>
<rect x="633.08" y="813.79" width="25.24" height="12.90" fill="#e4e2e1"/>
<rect x="657.82" y="813.79" width="25.24" height="12.90" fill="#b2d5e7"/>
<rect x="682.55" y="813.79" width="25.24" height="12.90" fill="#92c5de"/>
<rect x="707.29" y="813.79" width="25.24" height="12.90" fill="#a7d0e4"/>
<rect x="732.03" y="813.79" width="25.24" height="12.90" fill="#92c5de"/>
<rect x="756.77" y="813.79" width="25.24" height="12.90" fill="#9ccae1"/>
<rect x="781.51" y="813.79" width="25.24" height="12.90" fill="#b2d5e7"/>
<rect x="806.25" y="813.79" width="25.24" height="12.90" fill="#bcdaea"/>
<rect x="830.98" y="813.79" width="25.24" height="12.90" fill="#9ccae1"/>
<rect x="855.72" y="813.79" width="25.24" height="12.90" fill="#dae4e8"/>
<rect x="880.46" y="813.79" width="25.24" height="12.90" fill="#9ccae1"/>
<rect x="262.00" y="826.19" width="25.24" height="12.90" fill="#d6604d"/>
<rect x="286.74" y="826.19" width="25.24" height="12.90" fill="#ca4842"/>
<rect x="311.48" y="826.19" width="25.24" height="12.90" fill="#ca4842"/>
<rect x="336.22" y="826.19" width="25.24" height="12.90" fill="#ca4842"/>
<rect x="360.95" y="826.19" width="25.24" height="12.90" fill="#b2182b"/>
<rect x="385.69" y="826.19" width="25.24" height="12.90" fill="#b2d5e7"/>
<rect x="410.43" y="826.19" width="25.24" height="12.90" fill="#dae4e8"/>
<rect x="435.17" y="826.19" width="25.24" height="12.90" fill="#dae4e8"/>
<rect x="459.91" y="826.19" width="25.24" height="12.90" fill="#b2d5e7"/>
<rect x="484.65" y="826.19" width="25.24" height="12.90" fill="#d1e5f0"/>
<rect x="509.38" y="826.19" width="25.24" height="12.90" fill="#fac9b0"/>
<rect x="534.12" y="826.19" width="25.24" height="12.90" fill="#b2d5e7"/>
<rect x="558.86" y="826.19" width="25.24" height="12.90" fill="#bcdaea"/>
<rect x="583.60" y="826.19" width="25.24" height="12.90" fill="#d1e5f0"/>
<rect x="608.34" y="826.19" width="25.24" height="12.90" fill="#b2d5e7"/>
<rect x="633.08" y="826.19" width="25.24" height="12.90" fill="#b2d5e7"/>
<rect x="657.82" y="826.19" width="25.24" height="12.90" fill="#d1e5f0"/>
<rect x="682.55" y="826.19" width="25.24" height="12.90" fill="#b2d5e7"/>
<rect x="707.29" y="826.19" width="25.24" height="12.90" fill="#b2d5e7"/>
<rect x="732.03" y="826.19" width="25.24" height="12.90" fill="#a7d0e4"/>
<rect x="756.77" y="826.19" width="25.24" height="12.90" fill="#a7d0e4"/>
<rect x="781.51" y="826.19" width="25.24" height="12.90" fill="#b2d5e7"/>
<rect x="806.25" y="826.19" width="25.24" height="12.90" fill="#f7ddce"/>
<rect x="830.98" y="826.19" width="25.24" height="12.90" fill="#b2d5e7"/>
<rect x="855.72" y="826.19" width="25.24" height="12.90" fill="#b2d5e7"/>
<rect x="880.46" y="826.19" width="25.24" height="12.90" fill="#bcdaea"/>
<rect x="262.00" y="838.59" width="25.24" height="12.90" fill="#67001f"/>
<rect x="286.74" y="838.59" width="25.24" height="12.90" fill="#d6604d"/>
<rect x="311.48" y="838.59" width="25.24" height="12.90" fill="#e0775f"/>
<rect x="336.22" y="838.59" width="25.24" height="12.90" fill="#c43c3c"/>
<rect x="360.95" y="838.59" width="25.24" height="12.90" fill="#f4a582"/>
<rect x="385.69" y="838.59" width="25.24" height="12.90" fill="#d1e5f0"/>
<rect x="410.43" y="838.59" width="25.24" height="12.90" fill="#bcdaea"/>
<rect x="435.17" y="838.59" width="25.24" height="12.90" fill="#c6e0ed"/>
<rect x="459.91" y="838.59" width="25.24" height="12.90" fill="#bcdaea"/>
<rect x="484.65" y="838.59" width="25.24" height="12.90" fill="#c6e0ed"/>
<rect x="509.38" y="838.59" width="25.24" height="12.90" fill="#d4e4ee"/>
<rect x="534.12" y="838.59" width="25.24" height="12.90" fill="#c6e0ed"/>
<rect x="558.86" y="838.59" width="25.24" height="12.90" fill="#bcdaea"/>
<rect x="583.60" y="838.59" width="25.24" height="12.90" fill="#c6e0ed"/>
<rect x="608.34" y="838.59" width="25.24" height="12.90" fill="#c6e0ed"/>
<rect x="633.08" y="838.59" width="25.24" height="12.90" fill="#bcdaea"/>
<rect x="657.82" y="838.59" width="25.24" height="12.90" fill="#c6e0ed"/>
<rect x="682.55" y="838.59" width="25.24" height="12.90" fill="#d4e4ee"/>
<rect x="707.29" y="838.59" width="25.24" height="12.90" fill="#c6e0ed"/>
<rect x="732.03" y="838.59" width="25.24" height="12.90" fill="#c6e0ed"/>
<rect x="756.77" y="838.59" width="25.24" height="12.90" fill="#c6e0ed"/>
<rect x="781.51" y="838.59" width="25.24" height="12.90" fill="#c6e0ed"/>
<rect x="806.25" y="838.59" width="25.24" height="12.90" fill="#c6e0ed"/>
<rect x="830.98" y="838.59" width="25.24" height="12.90" fill="#c6e0ed"/>
<rect x="855.72" y="838.59" width="25.24" height="12.90" fill="#c6e0ed"/>
<rect x="880.46" y="838.59" width="25.24" height="12.90" fill="#c6e0ed"/>
<rect x="262.00" y="850.99" width="25.24" height="12.90" fill="#800823"/>
<rect x="286.74" y="850.99" width="25.24" height="12.90" fill="#b2182b"/>
<rect x="311.48" y="850.99" width="25.24" height="12.90" fill="#f7b799"/>
<rect x="336.22" y="850.99" width="25.24" height="12.90" fill="#c43c3c"/>
<rect x="360.95" y="850.99" width="25.24" height="12.90" fill="#f6ae8d"/>
<rect x="385.69" y="850.99" width="25.24" height="12.90" fill="#d1e5f0"/>
<rect x="410.43" y="850.99" width="25.24" height="12.90" fill="#c6e0ed"/>
<rect x="435.17" y="850.99" width="25.24" height="12.90" fill="#d4e4ee"/>
<rect x="459.91" y="850.99" width="25.24" height="12.90" fill="#c6e0ed"/>
<rect x="484.65" y="850.99" width="25.24" height="12.90" fill="#d1e5f0"/>
<rect x="509.38" y="850.99" width="25.24" height="12.90" fill="#f9dccb"/>
<rect x="534.12" y="850.99" width="25.24" height="12.90" fill="#a7d0e4"/>
<rect x="558.86" y="850.99" width="25.24" height="12.90" fill="#c6e0ed"/>
<rect x="583.60" y="850.99" width="25.24" height="12.90" fill="#c6e0ed"/>
<rect x="608.34" y="850.99" width="25.24" height="12.90" fill="#b2d5e7"/>
<rect x="633.08" y="850.99" width="25.24" height="12.90" fill="#d7e4eb"/>
<rect x="657.82" y="850.99" width="25.24" height="12.90" fill="#b2d5e7"/>
<rect x="682.55" y="850.99" width="25.24" height="12.90" fill="#b2d5e7"/>
<rect x="707.29" y="850.99" width="25.24" height="12.90" fill="#b2d5e7"/>
<rect x="732.03" y="850.99" width="25.24" height="12.90" fill="#9ccae1"/>
<rect x="756.77" y="850.99" width="25.24" height="12.90" fill="#c6e0ed"/>
<rect x="781.51" y="850.99" width="25.24" height="12.90" fill="#b2d5e7"/>
<rect x="806.25" y="850.99" width="25.24" height="12.90" fill="#d4e4ee"/>
<rect x="830.98" y="850.99" width="25.24" height="12.90" fill="#bcdaea"/>
<rect x="855.72" y="850.99" width="25.24" height="12.90" fill="#d1e5f0"/>
<rect x="880.46" y="850.99" width="25.24" height="12.90" fill="#d7e4eb"/>
<rect x="262.00" y="863.39" width="25.24" height="12.90" fill="#8c0c25"/>
<rect x="286.74" y="863.39" width="25.24" height="12.90" fill="#ca4842"/>
<rect x="311.48" y="863.39" width="25.24" height="12.90" fill="#ea8e70"/>
<rect x="336.22" y="863.39" width="25.24" height="12.90" fill="#8c0c25"/>
<rect x="360.95" y="863.39" width="25.24" height="12.90" fill="#f7b799"/>
<rect x="385.69" y="863.39" width="25.24" height="12.90" fill="#d1e5f0"/>
<rect x="410.43" y="863.39" width="25.24" height="12.90" fill="#c6e0ed"/>
<rect x="435.17" y="863.39" width="25.24" height="12.90" fill="#b2d5e7"/>
<rect x="459.91" y="863.39" width="25.24" height="12.90" fill="#bcdaea"/>
<rect x="484.65" y="863.39" width="25.24" height="12.90" fill="#c6e0ed"/>
<rect x="509.38" y="863.39" width="25.24" height="12.90" fill="#ece0d8"/>
<rect x="534.12" y="863.39" width="25.24" height="12.90" fill="#c6e0ed"/>
<rect x="558.86" y="863.39" width="25.24" height="12.90" fill="#d4e4ee"/>
<rect x="583.60" y="863.39" width="25.24" height="12.90" fill="#d1e5f0"/>
<rect x="608.34" y="863.39" width="25.24" height="12.90" fill="#b2d5e7"/>
<rect x="633.08" y="863.39" width="25.24" height="12.90" fill="#fddbc7"/>
<rect x="657.82" y="863.39" width="25.24" height="12.90" fill="#92c5de"/>
<rect x="682.55" y="863.39" width="25.24" height="12.90" fill="#bcdaea"/>
<rect x="707.29" y="863.39" width="25.24" height="12.90" fill="#b2d5e7"/>
<rect x="732.03" y="863.39" width="25.24" height="12.90" fill="#a7d0e4"/>
<rect x="756.77" y="863.39" width="25.24" height="12.90" fill="#c6e0ed"/>
<rect x="781.51" y="863.39" width="25.24" height="12.90" fill="#bcdaea"/>
<rect x="806.25" y="863.39" width="25.24" height="12.90" fill="#b2d5e7"/>
<rect x="830.98" y="863.39" width="25.24" height="12.90" fill="#c6e0ed"/>
<rect x="855.72" y="863.39" width="25.24" height="12.90" fill="#c6e0ed"/>
<rect x="880.46" y="863.39" width="25.24" height="12.90" fill="#c6e0ed"/>
<rect x="262.00" y="875.80" width="25.24" height="12.90" fill="#d6604d"/>
<rect x="286.74" y="875.80" width="25.24" height="12.90" fill="#991027"/>
<rect x="311.48" y="875.80" width="25.24" height="12.90" fill="#c43c3c"/>
<rect x="336.22" y="875.80" width="25.24" height="12.90" fill="#db6c56"/>
<rect x="360.95" y="875.80" width="25.24" height="12.90" fill="#f4a582"/>
<rect x="385.69" y="875.80" width="25.24" height="12.90" fill="#5ba2cb"/>
<rect x="410.43" y="875.80" width="25.24" height="12.90" fill="#a7d0e4"/>
<rect x="435.17" y="875.80" width="25.24" height="12.90" fill="#92c5de"/>
<rect x="459.91" y="875.80" width="25.24" height="12.90" fill="#b2d5e7"/>
<rect x="484.65" y="875.80" width="25.24" height="12.90" fill="#b2d5e7"/>
<rect x="509.38" y="875.80" width="25.24" height="12.90" fill="#9ccae1"/>
<rect x="534.12" y="875.80" width="25.24" height="12.90" fill="#b2d5e7"/>
<rect x="558.86" y="875.80" width="25.24" height="12.90" fill="#bcdaea"/>
<rect x="583.60" y="875.80" width="25.24" height="12.90" fill="#d1e5f0"/>
<rect x="608.34" y="875.80" width="25.24" height="12.90" fill="#bcdaea"/>
<rect x="633.08" y="875.80" width="25.24" height="12.90" fill="#bcdaea"/>
<rect x="657.82" y="875.80" width="25.24" height="12.90" fill="#f6ae8d"/>
<rect x="682.55" y="875.80" width="25.24" height="12.90" fill="#fcd2bc"/>
<rect x="707.29" y="875.80" width="25.24" height="12.90" fill="#b2d5e7"/>
<rect x="732.03" y="875.80" width="25.24" height="12.90" fill="#dae4e8"/>
<rect x="756.77" y="875.80" width="25.24" height="12.90" fill="#d4e4ee"/>
<rect x="781.51" y="875.80" width="25.24" height="12.90" fill="#dae4e8"/>
<rect x="806.25" y="875.80" width="25.24" height="12.90" fill="#d7e4eb"/>
<rect x="830.98" y="875.80" width="25.24" height="12.90" fill="#c6e0ed"/>
<rect x="855.72" y="875.80" width="25.24" height="12.90" fill="#d4e4ee"/>
<rect x="880.46" y="875.80" width="25.24" height="12.90" fill="#f9dccb"/>
<rect x="262.00" y="888.20" width="25.24" height="12.90" fill="#b2182b"/>
<rect x="286.74" y="888.20" width="25.24" height="12.90" fill="#d05447"/>
<rect x="311.48" y="888.20" width="25.24" height="12.90" fill="#e0775f"/>
<rect x="336.22" y="888.20" width="25.24" height="12.90" fill="#f9dccb"/>
<rect x="360.95" y="888.20" width="25.24" height="12.90" fill="#ea8e70"/>
<rect x="385.69" y="888.20" width="25.24" height="12.90" fill="#f7b799"/>
<rect x="410.43" y="888.20" width="25.24" height="12.90" fill="#e8e1dd"/>
<rect x="435.17" y="888.20" width="25.24" height="12.90" fill="#f6ae8d"/>
<rect x="459.91" y="888.20" width="25.24" height="12.90" fill="#e1e2e4"/>
<rect x="484.65" y="888.20" width="25.24" height="12.90" fill="#ece0d8"/>
<rect x="509.38" y="888.20" width="25.24" height="12.90" fill="#ece0d8"/>
<rect x="534.12" y="888.20" width="25.24" height="12.90" fill="#ece0d8"/>
<rect x="558.86" y="888.20" width="25.24" height="12.90" fill="#fac9b0"/>
<rect x="583.60" y="888.20" width="25.24" height="12.90" fill="#ece0d8"/>
<rect x="608.34" y="888.20" width="25.24" height="12.90" fill="#bcdaea"/>
<rect x="633.08" y="888.20" width="25.24" height="12.90" fill="#d7e4eb"/>
<rect x="657.82" y="888.20" width="25.24" height="12.90" fill="#8bc1dc"/>
<rect x="682.55" y="888.20" width="25.24" height="12.90" fill="#8bc1dc"/>
<rect x="707.29" y="888.20" width="25.24" height="12.90" fill="#8bc1dc"/>
<rect x="732.03" y="888.20" width="25.24" height="12.90" fill="#85bdda"/>
<rect x="756.77" y="888.20" width="25.24" height="12.90" fill="#85bdda"/>
<rect x="781.51" y="888.20" width="25.24" height="12.90" fill="#8bc1dc"/>
<rect x="806.25" y="888.20" width="25.24" height="12.90" fill="#92c5de"/>
<rect x="830.98" y="888.20" width="25.24" height="12.90" fill="#8bc1dc"/>
<rect x="855.72" y="888.20" width="25.24" height="12.90" fill="#97c8e0"/>
<rect x="880.46" y="888.20" width="25.24" height="12.90" fill="#9ccae1"/>
</g>
<g stroke="#1a1a1a" stroke-width="1" fill="none" stroke-linecap="square">
<path d="M348.6 237.3V220.7H373.3V237.3"/>
<path d="M323.8 237.3V215.3H361.0V220.7"/>
<path d="M299.1 237.3V213.2H342.4V215.3"/>
<path d="M274.4 237.3V206.4H320.8V213.2"/>
<path d="M472.3 237.3V206.4H497.0V237.3"/>
<path d="M447.5 237.3V196.2H484.6V206.4"/>
<path d="M422.8 237.3V191.2H466.1V196.2"/>
<path d="M398.1 237.3V179.8H444.4V191.2"/>
<path d="M571.2 237.3V195.6H596.0V237.3"/>
<path d="M620.7 237.3V184.6H645.4V237.3"/>
<path d="M583.6 195.6V173.3H633.1V184.6"/>
<path d="M546.5 237.3V159.0H608.3V173.3"/>
<path d="M521.8 237.3V136.6H577.4V159.0"/>
<path d="M421.3 179.8V85.6H549.6V136.6"/>
<path d="M670.2 237.3V212.8H694.9V237.3"/>
<path d="M719.7 237.3V206.4H744.4V237.3"/>
<path d="M682.6 212.8V201.5H732.0V206.4"/>
<path d="M769.1 237.3V200.3H793.9V237.3"/>
<path d="M868.1 237.3V208.3H892.8V237.3"/>
<path d="M843.4 237.3V202.5H880.5V208.3"/>
<path d="M818.6 237.3V190.9H861.9V202.5"/>
<path d="M781.5 200.3V186.0H840.3V190.9"/>
<path d="M707.3 201.5V43.7H810.9V186.0"/>
<path d="M485.4 85.6V26.3H759.1V43.7"/>
<path d="M297.6 206.4V0.4H622.3V26.3"/>
<path d="M459.9 0.4V-2"/>
<path d="M251.7 286.7H109.3V299.1H251.7"/>
<path d="M251.7 311.5H234.5V323.9H251.7"/>
<path d="M109.3 292.9H49.7V317.7H234.5"/>
<path d="M251.7 336.3H222.4V348.7H251.7"/>
<path d="M251.7 361.1H225.6V373.5H251.7"/>
<path d="M222.4 342.5H216.3V367.3H225.6"/>
<path d="M251.7 385.9H233.7V398.3H251.7"/>
<path d="M233.7 392.1H221.2V410.7H251.7"/>
<path d="M216.3 354.9H193.2V401.4H221.2"/>
<path d="M251.7 423.1H239.3V435.5H251.7"/>
<path d="M239.3 429.3H231.6V447.9H251.7"/>
<path d="M251.7 460.3H239.8V472.7H251.7"/>
<path d="M231.6 438.6H229.5V466.5H239.8"/>
<path d="M251.7 485.1H251.0V497.5H251.7"/>
<path d="M251.0 491.3H248.1V509.9H251.7"/>
<path d="M248.1 500.6H245.8V522.3H251.7"/>
<path d="M251.7 534.7H251.2V547.1H251.7"/>
<path d="M251.2 540.9H246.7V559.5H251.7"/>
<path d="M245.8 511.5H243.7V550.2H246.7"/>
<path d="M243.7 530.9H234.8V571.9H251.7"/>
<path d="M251.7 584.3H242.3V596.8H251.7"/>
<path d="M251.7 609.2H242.3V621.6H251.7"/>
<path d="M242.3 590.5H238.1V615.4H242.3"/>
<path d="M234.8 551.4H230.4V603.0H238.1"/>
<path d="M229.5 452.6H226.2V577.2H230.4"/>
<path d="M226.2 514.9H224.6V634.0H251.7"/>
<path d="M224.6 574.4H223.3V646.4H251.7"/>
<path d="M251.7 658.8H231.4V671.2H251.7"/>
<path d="M223.3 610.4H217.0V665.0H231.4"/>
<path d="M251.7 683.6H236.9V696.0H251.7"/>
<path d="M236.9 689.8H220.7V708.4H251.7"/>
<path d="M217.0 637.7H214.1V699.1H220.7"/>
<path d="M251.7 720.8H222.3V733.2H251.7"/>
<path d="M214.1 668.4H196.7V727.0H222.3"/>
<path d="M193.2 378.2H165.8V697.7H196.7"/>
<path d="M251.7 745.6H237.4V758.0H251.7"/>
<path d="M237.4 751.8H231.4V770.4H251.7"/>
<path d="M231.4 761.1H225.6V782.8H251.7"/>
<path d="M251.7 795.2H239.4V807.6H251.7"/>
<path d="M251.7 820.0H243.3V832.4H251.7"/>
<path d="M239.4 801.4H237.2V826.2H243.3"/>
<path d="M251.7 844.8H245.4V857.2H251.7"/>
<path d="M245.4 851.0H244.6V869.6H251.7"/>
<path d="M237.2 813.8H232.4V860.3H244.6"/>
<path d="M225.6 771.9H223.3V837.0H232.4"/>
<path d="M223.3 804.5H216.6V882.0H251.7"/>
<path d="M216.6 843.2H196.5V894.4H251.7"/>
<path d="M165.8 537.9H62.2V868.8H196.5"/>
<path d="M49.7 305.3H6.8V703.4H62.2"/>
</g>
</svg></body></html>
